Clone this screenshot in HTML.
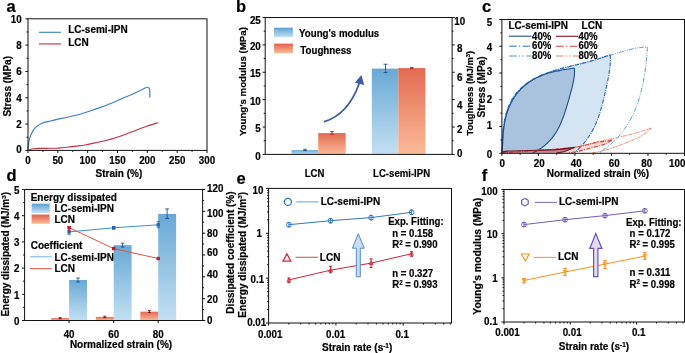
<!DOCTYPE html>
<html><head><meta charset="utf-8"><style>
html,body{margin:0;padding:0;background:#fff;width:685px;height:353px;overflow:hidden}
svg{display:block;will-change:transform}
text{font-family:"Liberation Sans",sans-serif;font-weight:bold;stroke:currentColor;stroke-width:0.2px}
</style></head><body>
<svg xmlns="http://www.w3.org/2000/svg" width="685" height="353" viewBox="0 0 685 353" font-family="Liberation Sans, sans-serif" font-weight="bold">
<rect width="685" height="353" fill="#fff"/>
<text x="6.5" y="12" font-size="16.5" fill="#000">a</text>
<line x1="28.00" y1="150.40" x2="28.00" y2="153.00" stroke="#111" stroke-width="1" />
<line x1="42.92" y1="150.40" x2="42.92" y2="151.90" stroke="#111" stroke-width="1" />
<line x1="57.83" y1="150.40" x2="57.83" y2="153.00" stroke="#111" stroke-width="1" />
<line x1="72.75" y1="150.40" x2="72.75" y2="151.90" stroke="#111" stroke-width="1" />
<line x1="87.67" y1="150.40" x2="87.67" y2="153.00" stroke="#111" stroke-width="1" />
<line x1="102.58" y1="150.40" x2="102.58" y2="151.90" stroke="#111" stroke-width="1" />
<line x1="117.50" y1="150.40" x2="117.50" y2="153.00" stroke="#111" stroke-width="1" />
<line x1="132.42" y1="150.40" x2="132.42" y2="151.90" stroke="#111" stroke-width="1" />
<line x1="147.33" y1="150.40" x2="147.33" y2="153.00" stroke="#111" stroke-width="1" />
<line x1="162.25" y1="150.40" x2="162.25" y2="151.90" stroke="#111" stroke-width="1" />
<line x1="177.17" y1="150.40" x2="177.17" y2="153.00" stroke="#111" stroke-width="1" />
<line x1="192.08" y1="150.40" x2="192.08" y2="151.90" stroke="#111" stroke-width="1" />
<line x1="207.00" y1="150.40" x2="207.00" y2="153.00" stroke="#111" stroke-width="1" />
<line x1="25.40" y1="150.40" x2="28.00" y2="150.40" stroke="#111" stroke-width="1" />
<line x1="26.50" y1="137.24" x2="28.00" y2="137.24" stroke="#111" stroke-width="1" />
<line x1="25.40" y1="124.08" x2="28.00" y2="124.08" stroke="#111" stroke-width="1" />
<line x1="26.50" y1="110.92" x2="28.00" y2="110.92" stroke="#111" stroke-width="1" />
<line x1="25.40" y1="97.76" x2="28.00" y2="97.76" stroke="#111" stroke-width="1" />
<line x1="26.50" y1="84.60" x2="28.00" y2="84.60" stroke="#111" stroke-width="1" />
<line x1="25.40" y1="71.44" x2="28.00" y2="71.44" stroke="#111" stroke-width="1" />
<line x1="26.50" y1="58.28" x2="28.00" y2="58.28" stroke="#111" stroke-width="1" />
<line x1="25.40" y1="45.12" x2="28.00" y2="45.12" stroke="#111" stroke-width="1" />
<line x1="26.50" y1="31.96" x2="28.00" y2="31.96" stroke="#111" stroke-width="1" />
<line x1="25.40" y1="18.80" x2="28.00" y2="18.80" stroke="#111" stroke-width="1" />
<text x="28.00" y="163.95" font-size="10.5" text-anchor="middle" fill="#000" textLength="5.45" lengthAdjust="spacingAndGlyphs">0</text>
<text x="57.83" y="163.95" font-size="10.5" text-anchor="middle" fill="#000" textLength="10.90" lengthAdjust="spacingAndGlyphs">50</text>
<text x="87.67" y="163.95" font-size="10.5" text-anchor="middle" fill="#000" textLength="16.35" lengthAdjust="spacingAndGlyphs">100</text>
<text x="117.50" y="163.95" font-size="10.5" text-anchor="middle" fill="#000" textLength="16.35" lengthAdjust="spacingAndGlyphs">150</text>
<text x="147.33" y="163.95" font-size="10.5" text-anchor="middle" fill="#000" textLength="16.35" lengthAdjust="spacingAndGlyphs">200</text>
<text x="177.17" y="163.95" font-size="10.5" text-anchor="middle" fill="#000" textLength="16.35" lengthAdjust="spacingAndGlyphs">250</text>
<text x="207.00" y="163.95" font-size="10.5" text-anchor="middle" fill="#000" textLength="16.35" lengthAdjust="spacingAndGlyphs">300</text>
<text x="21.60" y="153.25" font-size="10.5" text-anchor="end" fill="#000" textLength="5.45" lengthAdjust="spacingAndGlyphs">0</text>
<text x="21.60" y="128.25" font-size="10.5" text-anchor="end" fill="#000" textLength="5.45" lengthAdjust="spacingAndGlyphs">2</text>
<text x="21.60" y="101.75" font-size="10.5" text-anchor="end" fill="#000" textLength="5.45" lengthAdjust="spacingAndGlyphs">4</text>
<text x="21.60" y="75.05" font-size="10.5" text-anchor="end" fill="#000" textLength="5.45" lengthAdjust="spacingAndGlyphs">6</text>
<text x="21.60" y="49.45" font-size="10.5" text-anchor="end" fill="#000" textLength="5.45" lengthAdjust="spacingAndGlyphs">8</text>
<text x="21.60" y="23.45" font-size="10.5" text-anchor="end" fill="#000" textLength="10.90" lengthAdjust="spacingAndGlyphs">10</text>
<text x="118.90" y="177.00" font-size="10" text-anchor="middle" fill="#000" >Strain (%)</text>
<text transform="translate(11.00,86.30) rotate(-90)" font-size="10.00" text-anchor="middle" textLength="60.58" lengthAdjust="spacingAndGlyphs"><tspan dy="0.00">Stress (MPa)</tspan></text>
<path d="M27.70,150.20 C27.82,149.28 28.15,146.38 28.40,144.70 C28.65,143.02 28.70,141.93 29.20,140.10 C29.70,138.27 30.33,135.82 31.40,133.70 C32.47,131.58 33.83,129.15 35.60,127.40 C37.37,125.65 39.52,124.27 42.00,123.20 C44.48,122.13 47.67,121.72 50.50,121.00 C53.33,120.28 56.17,119.53 59.00,118.90 C61.83,118.27 63.97,117.98 67.50,117.20 C71.03,116.42 76.67,115.15 80.20,114.20 C83.73,113.25 85.52,112.55 88.70,111.50 C91.88,110.45 95.75,109.20 99.30,107.90 C102.85,106.60 105.75,105.47 110.00,103.70 C114.25,101.93 120.43,99.15 124.80,97.30 C129.17,95.45 132.62,94.25 136.20,92.60 C139.78,90.95 144.62,88.27 146.30,87.40" stroke="#3b80c4" stroke-width="1.15" fill="none" stroke-linejoin="round" stroke-linecap="butt" />
<path d="M146.3,87.4 C148.5,86.7 149.8,88.2 149.8,90.7 L149.9,97.8" stroke="#3b80c4" stroke-width="1.15" fill="none"/>
<path d="M28.00,150.40 C28.27,150.32 28.78,150.18 29.60,149.90 C30.42,149.62 31.17,148.95 32.90,148.70 C34.63,148.45 37.15,148.47 40.00,148.40 C42.85,148.33 47.33,148.33 50.00,148.30 C52.67,148.27 54.00,148.30 56.00,148.20 C58.00,148.10 59.83,147.90 62.00,147.70 C64.17,147.50 66.50,147.27 69.00,147.00 C71.50,146.73 74.33,146.43 77.00,146.10 C79.67,145.77 82.00,145.53 85.00,145.00 C88.00,144.47 91.55,143.65 95.00,142.90 C98.45,142.15 102.37,141.32 105.70,140.50 C109.03,139.68 111.68,139.03 115.00,138.00 C118.32,136.97 122.07,135.60 125.60,134.30 C129.13,133.00 132.67,131.53 136.20,130.20 C139.73,128.87 143.15,127.55 146.80,126.30 C150.45,125.05 156.22,123.30 158.10,122.70" stroke="#c8303f" stroke-width="1.15" fill="none" stroke-linejoin="round" stroke-linecap="butt" />
<line x1="38.90" y1="32.30" x2="61.10" y2="32.30" stroke="#3b7fc4" stroke-width="1.1" />
<line x1="38.90" y1="43.90" x2="61.10" y2="43.90" stroke="#d8707e" stroke-width="1.6" />
<text x="68.20" y="33.40" font-size="10" text-anchor="start" fill="#000" >LC-semi-IPN</text>
<text x="68.20" y="45.80" font-size="10" text-anchor="start" fill="#000" >LCN</text>
<rect x="28.00" y="18.80" width="179.00" height="131.60" fill="none" stroke="#111" stroke-width="1.0"/>
<text x="236" y="12" font-size="16.5" fill="#000">b</text>
<defs>
<linearGradient id="gb" x1="0" y1="0" x2="0" y2="1"><stop offset="0" stop-color="#68a8d5"/><stop offset="1" stop-color="#c3e0f2"/></linearGradient>
<linearGradient id="gr" x1="0" y1="0" x2="0" y2="1"><stop offset="0" stop-color="#e26a52"/><stop offset="1" stop-color="#fbbb99"/></linearGradient>
<linearGradient id="gbl" x1="0" y1="0" x2="0" y2="1"><stop offset="0" stop-color="#5d9fd0"/><stop offset="1" stop-color="#c4e1f3"/></linearGradient>
<linearGradient id="grl" x1="0" y1="0" x2="0" y2="1"><stop offset="0" stop-color="#e0604c"/><stop offset="1" stop-color="#fbbb98"/></linearGradient>
</defs>
<rect x="291.50" y="150.10" width="26.70" height="4.30" fill="url(#gb)"/>
<rect x="318.20" y="133.10" width="27.50" height="21.30" fill="url(#gr)"/>
<rect x="371.80" y="68.60" width="26.50" height="85.80" fill="url(#gb)"/>
<rect x="398.30" y="68.10" width="27.10" height="86.30" fill="url(#gr)"/>
<line x1="305.00" y1="149.30" x2="305.00" y2="150.60" stroke="#1f4e8c" stroke-width="0.9" />
<line x1="303.20" y1="149.30" x2="306.80" y2="149.30" stroke="#1f4e8c" stroke-width="0.9" />
<line x1="303.20" y1="150.60" x2="306.80" y2="150.60" stroke="#1f4e8c" stroke-width="0.9" />
<line x1="332.00" y1="131.60" x2="332.00" y2="134.40" stroke="#b02030" stroke-width="0.9" />
<line x1="330.20" y1="131.60" x2="333.80" y2="131.60" stroke="#b02030" stroke-width="0.9" />
<line x1="330.20" y1="134.40" x2="333.80" y2="134.40" stroke="#b02030" stroke-width="0.9" />
<line x1="385.50" y1="64.20" x2="385.50" y2="72.60" stroke="#1f4e8c" stroke-width="0.9" />
<line x1="383.50" y1="64.20" x2="387.50" y2="64.20" stroke="#1f4e8c" stroke-width="0.9" />
<line x1="383.50" y1="72.60" x2="387.50" y2="72.60" stroke="#1f4e8c" stroke-width="0.9" />
<line x1="411.80" y1="67.60" x2="411.80" y2="68.60" stroke="#b02030" stroke-width="0.9" />
<line x1="410.00" y1="67.60" x2="413.60" y2="67.60" stroke="#b02030" stroke-width="0.9" />
<line x1="410.00" y1="68.60" x2="413.60" y2="68.60" stroke="#b02030" stroke-width="0.9" />
<line x1="262.60" y1="154.40" x2="265.20" y2="154.40" stroke="#111" stroke-width="1" />
<line x1="263.70" y1="140.71" x2="265.20" y2="140.71" stroke="#111" stroke-width="1" />
<line x1="262.60" y1="127.02" x2="265.20" y2="127.02" stroke="#111" stroke-width="1" />
<line x1="263.70" y1="113.33" x2="265.20" y2="113.33" stroke="#111" stroke-width="1" />
<line x1="262.60" y1="99.64" x2="265.20" y2="99.64" stroke="#111" stroke-width="1" />
<line x1="263.70" y1="85.95" x2="265.20" y2="85.95" stroke="#111" stroke-width="1" />
<line x1="262.60" y1="72.26" x2="265.20" y2="72.26" stroke="#111" stroke-width="1" />
<line x1="263.70" y1="58.57" x2="265.20" y2="58.57" stroke="#111" stroke-width="1" />
<line x1="262.60" y1="44.88" x2="265.20" y2="44.88" stroke="#111" stroke-width="1" />
<line x1="263.70" y1="31.19" x2="265.20" y2="31.19" stroke="#111" stroke-width="1" />
<line x1="262.60" y1="17.50" x2="265.20" y2="17.50" stroke="#111" stroke-width="1" />
<line x1="452.10" y1="154.40" x2="454.70" y2="154.40" stroke="#111" stroke-width="1" />
<line x1="452.10" y1="140.71" x2="453.60" y2="140.71" stroke="#111" stroke-width="1" />
<line x1="452.10" y1="127.02" x2="454.70" y2="127.02" stroke="#111" stroke-width="1" />
<line x1="452.10" y1="113.33" x2="453.60" y2="113.33" stroke="#111" stroke-width="1" />
<line x1="452.10" y1="99.64" x2="454.70" y2="99.64" stroke="#111" stroke-width="1" />
<line x1="452.10" y1="85.95" x2="453.60" y2="85.95" stroke="#111" stroke-width="1" />
<line x1="452.10" y1="72.26" x2="454.70" y2="72.26" stroke="#111" stroke-width="1" />
<line x1="452.10" y1="58.57" x2="453.60" y2="58.57" stroke="#111" stroke-width="1" />
<line x1="452.10" y1="44.88" x2="454.70" y2="44.88" stroke="#111" stroke-width="1" />
<line x1="452.10" y1="31.19" x2="453.60" y2="31.19" stroke="#111" stroke-width="1" />
<line x1="452.10" y1="17.50" x2="454.70" y2="17.50" stroke="#111" stroke-width="1" />
<text x="260.80" y="23.75" font-size="10.5" text-anchor="end" fill="#000" textLength="10.90" lengthAdjust="spacingAndGlyphs">25</text>
<text x="260.80" y="50.05" font-size="10.5" text-anchor="end" fill="#000" textLength="10.90" lengthAdjust="spacingAndGlyphs">20</text>
<text x="260.80" y="76.55" font-size="10.5" text-anchor="end" fill="#000" textLength="10.90" lengthAdjust="spacingAndGlyphs">15</text>
<text x="260.80" y="104.85" font-size="10.5" text-anchor="end" fill="#000" textLength="10.90" lengthAdjust="spacingAndGlyphs">10</text>
<text x="260.80" y="131.65" font-size="10.5" text-anchor="end" fill="#000" textLength="5.45" lengthAdjust="spacingAndGlyphs">5</text>
<text x="260.80" y="160.35" font-size="10.5" text-anchor="end" fill="#000" textLength="5.45" lengthAdjust="spacingAndGlyphs">0</text>
<text x="459.80" y="25.35" font-size="10.5" text-anchor="middle" fill="#000" textLength="10.90" lengthAdjust="spacingAndGlyphs">10</text>
<text x="459.80" y="52.35" font-size="10.5" text-anchor="middle" fill="#000" textLength="5.45" lengthAdjust="spacingAndGlyphs">8</text>
<text x="459.80" y="81.05" font-size="10.5" text-anchor="middle" fill="#000" textLength="5.45" lengthAdjust="spacingAndGlyphs">6</text>
<text x="459.80" y="108.75" font-size="10.5" text-anchor="middle" fill="#000" textLength="5.45" lengthAdjust="spacingAndGlyphs">4</text>
<text x="459.80" y="132.75" font-size="10.5" text-anchor="middle" fill="#000" textLength="5.45" lengthAdjust="spacingAndGlyphs">2</text>
<text x="459.80" y="156.75" font-size="10.5" text-anchor="middle" fill="#000" textLength="5.45" lengthAdjust="spacingAndGlyphs">0</text>
<text transform="translate(246.30,81.60) rotate(-90)" font-size="9.60" text-anchor="middle" textLength="108.95" lengthAdjust="spacingAndGlyphs"><tspan dy="0.00">Young&#39;s modulus (MPa)</tspan></text>
<text transform="translate(473.20,93.20) rotate(-90)" font-size="9.20" text-anchor="middle" textLength="84.54" lengthAdjust="spacingAndGlyphs"><tspan dy="0.00">Toughness (MJ/m</tspan><tspan font-size="5.89" dy="-3.60">3</tspan><tspan dy="3.60">)</tspan></text>
<text x="314.50" y="177.40" font-size="10.5" text-anchor="middle" textLength="19.73" lengthAdjust="spacingAndGlyphs">LCN</text>
<text x="401.60" y="177.40" font-size="10.5" text-anchor="middle" textLength="57.07" lengthAdjust="spacingAndGlyphs">LC-semi-IPN</text>
<rect x="274.1" y="27.7" width="18.8" height="9.4" fill="url(#gbl)"/>
<rect x="274.1" y="43.6" width="18.8" height="9.6" fill="url(#grl)"/>
<text x="299.10" y="37.30" font-size="10.5" text-anchor="start" textLength="80.15" lengthAdjust="spacingAndGlyphs">Young&#39;s modulus</text>
<text x="300.30" y="53.50" font-size="10.5" text-anchor="start" textLength="51.20" lengthAdjust="spacingAndGlyphs">Toughness</text>
<path d="M323.9,121.8 C340,117 352,104 359.4,83" stroke="#3d5dab" stroke-width="1.8" fill="none"/>
<path d="M361.4,74.9 L354.8,82.8 L364.2,85.0 Z" fill="#3d5dab"/>
<line x1="265.20" y1="154.40" x2="452.10" y2="154.40" stroke="#111" stroke-width="1" />
<line x1="265.20" y1="17.50" x2="452.10" y2="17.50" stroke="#111" stroke-width="1" />
<line x1="265.20" y1="17.50" x2="265.20" y2="154.40" stroke="#111" stroke-width="1" />
<line x1="452.10" y1="17.50" x2="452.10" y2="154.40" stroke="#111" stroke-width="1" />
<text x="482.0" y="12" font-size="16.5" fill="#000">c</text>
<path d="M501.90,153.30 C501.93,153.00 502.04,152.10 502.10,151.49 C502.16,150.87 502.21,150.24 502.26,149.60 C502.30,148.96 502.34,148.30 502.38,147.64 C502.42,146.98 502.45,146.30 502.48,145.62 C502.51,144.94 502.54,144.25 502.57,143.55 C502.60,142.86 502.63,142.15 502.65,141.44 C502.68,140.73 502.71,140.01 502.74,139.29 C502.77,138.57 502.80,137.85 502.84,137.12 C502.87,136.39 502.91,135.66 502.95,134.93 C502.99,134.19 503.04,133.46 503.09,132.72 C503.14,131.98 503.19,131.24 503.26,130.50 C503.32,129.76 503.38,129.02 503.46,128.29 C503.53,127.55 503.61,126.81 503.70,126.07 C503.79,125.34 503.88,124.60 503.99,123.87 C504.09,123.14 504.20,122.41 504.32,121.68 C504.44,120.95 504.57,120.23 504.70,119.51 C504.84,118.79 504.99,118.07 505.14,117.36 C505.30,116.65 505.47,115.94 505.64,115.24 C505.82,114.54 506.00,113.84 506.20,113.15 C506.39,112.46 506.60,111.77 506.81,111.09 C507.03,110.41 507.26,109.74 507.50,109.07 C507.73,108.40 507.98,107.74 508.24,107.09 C508.50,106.44 508.77,105.79 509.05,105.15 C509.33,104.51 509.62,103.88 509.92,103.26 C510.22,102.63 510.54,102.02 510.86,101.41 C511.19,100.80 511.52,100.20 511.87,99.61 C512.21,99.01 512.57,98.43 512.94,97.86 C513.30,97.28 513.68,96.71 514.07,96.15 C514.46,95.60 514.86,95.05 515.27,94.51 C515.68,93.96 516.10,93.43 516.53,92.91 C516.96,92.39 517.40,91.87 517.85,91.36 C518.30,90.86 518.76,90.36 519.22,89.87 C519.69,89.39 520.17,88.91 520.66,88.44 C521.15,87.97 521.65,87.50 522.15,87.05 C522.66,86.60 523.18,86.16 523.70,85.72 C524.22,85.29 524.76,84.86 525.30,84.44 C525.84,84.02 526.38,83.62 526.94,83.21 C527.50,82.81 528.06,82.42 528.63,82.04 C529.20,81.65 529.78,81.28 530.37,80.91 C530.95,80.55 531.55,80.19 532.15,79.84 C532.74,79.48 533.35,79.14 533.96,78.81 C534.57,78.47 535.19,78.14 535.81,77.82 C536.43,77.50 537.06,77.19 537.70,76.89 C538.33,76.58 538.97,76.28 539.61,75.99 C540.25,75.70 540.90,75.42 541.55,75.14 C542.20,74.86 542.86,74.59 543.52,74.33 C544.17,74.06 544.84,73.80 545.50,73.55 C546.17,73.30 546.84,73.05 547.51,72.81 C548.18,72.57 548.85,72.34 549.53,72.11 C550.21,71.88 550.88,71.65 551.56,71.43 C552.24,71.21 552.93,71.00 553.61,70.79 C554.29,70.58 554.98,70.37 555.66,70.17 C556.35,69.97 557.04,69.77 557.72,69.57 C558.41,69.38 559.10,69.19 559.79,69.00 C560.47,68.82 561.16,68.63 561.85,68.45 C562.54,68.27 563.23,68.09 563.91,67.91 C564.60,67.74 565.29,67.57 565.98,67.39 C566.66,67.22 567.35,67.05 568.03,66.88 C568.72,66.72 569.40,66.55 570.09,66.38 C570.77,66.22 571.45,66.06 572.13,65.89 C572.81,65.73 573.49,65.57 574.17,65.40 C574.85,65.24 575.52,65.08 576.20,64.92 C576.87,64.75 577.55,64.59 578.22,64.43 C578.89,64.26 579.56,64.10 580.23,63.94 C580.90,63.77 581.57,63.61 582.23,63.44 C582.90,63.27 583.56,63.10 584.23,62.93 C584.89,62.76 585.55,62.59 586.21,62.42 C586.88,62.24 587.54,62.07 588.19,61.89 C588.85,61.71 589.51,61.53 590.17,61.34 C590.83,61.16 591.48,60.97 592.14,60.78 C592.80,60.59 593.45,60.39 594.11,60.20 C594.76,60.00 595.42,59.80 596.08,59.59 C596.74,59.39 597.39,59.18 598.05,58.96 C598.71,58.75 599.37,58.53 600.03,58.31 C600.70,58.09 601.36,57.86 602.03,57.63 C602.69,57.40 603.36,57.16 604.03,56.92 C604.71,56.68 605.38,56.43 606.06,56.18 C606.74,55.93 607.43,55.67 608.12,55.41 C608.81,55.14 609.83,54.50 610.20,54.60 C610.57,54.70 610.28,55.54 610.31,56.01 C610.34,56.48 610.36,56.95 610.38,57.41 C610.39,57.87 610.40,58.34 610.41,58.80 C610.41,59.26 610.41,59.72 610.40,60.18 C610.40,60.63 610.38,61.09 610.37,61.54 C610.35,62.00 610.33,62.45 610.30,62.90 C610.28,63.36 610.24,63.81 610.21,64.26 C610.18,64.71 610.14,65.16 610.09,65.61 C610.05,66.05 610.01,66.50 609.96,66.95 C609.91,67.40 609.86,67.84 609.80,68.29 C609.75,68.73 609.69,69.18 609.63,69.62 C609.57,70.07 609.50,70.51 609.44,70.95 C609.37,71.40 609.30,71.84 609.23,72.28 C609.16,72.72 609.09,73.17 609.02,73.61 C608.94,74.05 608.87,74.49 608.79,74.93 C608.71,75.38 608.64,75.82 608.55,76.26 C608.47,76.70 608.39,77.14 608.31,77.58 C608.23,78.02 608.14,78.47 608.06,78.91 C607.97,79.35 607.88,79.79 607.80,80.23 C607.71,80.67 607.62,81.11 607.53,81.55 C607.44,81.99 607.35,82.44 607.26,82.88 C607.17,83.32 607.08,83.76 606.99,84.20 C606.89,84.64 606.80,85.09 606.71,85.53 C606.61,85.97 606.52,86.41 606.42,86.85 C606.33,87.29 606.23,87.74 606.13,88.18 C606.04,88.62 605.94,89.06 605.84,89.51 C605.75,89.95 605.65,90.39 605.55,90.83 C605.45,91.28 605.35,91.72 605.25,92.16 C605.15,92.60 605.05,93.05 604.95,93.49 C604.85,93.93 604.74,94.38 604.64,94.82 C604.54,95.26 604.43,95.70 604.33,96.15 C604.23,96.59 604.12,97.03 604.02,97.48 C603.91,97.92 603.80,98.36 603.70,98.80 C603.59,99.25 603.48,99.69 603.37,100.13 C603.26,100.57 603.15,101.02 603.04,101.46 C602.93,101.90 602.82,102.34 602.71,102.78 C602.59,103.22 602.48,103.66 602.36,104.10 C602.25,104.55 602.13,104.99 602.01,105.43 C601.89,105.87 601.77,106.31 601.65,106.74 C601.53,107.18 601.41,107.62 601.29,108.06 C601.16,108.50 601.04,108.94 600.91,109.37 C600.78,109.81 600.65,110.25 600.52,110.68 C600.39,111.12 600.26,111.55 600.13,111.99 C599.99,112.42 599.86,112.85 599.72,113.29 C599.58,113.72 599.44,114.15 599.30,114.58 C599.15,115.01 599.01,115.44 598.86,115.87 C598.72,116.30 598.57,116.73 598.42,117.16 C598.26,117.58 598.11,118.01 597.95,118.43 C597.80,118.86 597.64,119.28 597.48,119.70 C597.32,120.13 597.15,120.55 596.99,120.97 C596.82,121.39 596.65,121.81 596.48,122.22 C596.30,122.64 596.13,123.06 595.95,123.47 C595.77,123.89 595.59,124.30 595.41,124.71 C595.22,125.12 595.04,125.53 594.85,125.94 C594.66,126.35 594.46,126.76 594.27,127.16 C594.07,127.57 593.87,127.97 593.67,128.37 C593.47,128.78 593.26,129.18 593.05,129.57 C592.84,129.97 592.63,130.37 592.41,130.76 C592.19,131.16 591.98,131.55 591.75,131.94 C591.53,132.33 591.30,132.72 591.07,133.11 C590.84,133.50 590.61,133.88 590.37,134.27 C590.13,134.65 589.89,135.03 589.65,135.41 C589.41,135.79 589.16,136.17 588.91,136.54 C588.66,136.92 588.40,137.29 588.14,137.66 C587.89,138.03 587.63,138.40 587.36,138.76 C587.10,139.13 586.83,139.49 586.56,139.86 C586.28,140.22 586.01,140.58 585.73,140.93 C585.45,141.29 585.17,141.65 584.89,142.00 C584.60,142.35 584.31,142.70 584.02,143.05 C583.73,143.40 583.44,143.75 583.14,144.09 C582.84,144.43 582.54,144.77 582.24,145.11 C581.93,145.45 581.63,145.79 581.32,146.12 C581.01,146.46 580.70,146.79 580.38,147.12 C580.07,147.45 579.75,147.77 579.43,148.10 C579.11,148.42 578.79,148.75 578.47,149.07 C578.15,149.39 577.82,149.70 577.49,150.02 C577.16,150.34 576.83,150.65 576.50,150.96 C576.17,151.27 575.84,151.58 575.51,151.89 C575.17,152.19 574.67,152.65 574.50,152.80 Z" stroke="none" stroke-width="0" fill="#d4e4f3" stroke-linejoin="round" stroke-linecap="butt" />
<path d="M501.90,153.30 C501.92,153.04 501.99,152.27 502.04,151.75 C502.08,151.23 502.12,150.70 502.16,150.18 C502.20,149.66 502.23,149.13 502.27,148.61 C502.30,148.08 502.33,147.55 502.37,147.02 C502.40,146.50 502.43,145.97 502.46,145.43 C502.49,144.90 502.52,144.37 502.55,143.84 C502.58,143.30 502.60,142.77 502.63,142.23 C502.66,141.69 502.69,141.16 502.73,140.62 C502.76,140.08 502.79,139.54 502.82,139.00 C502.86,138.46 502.89,137.92 502.93,137.38 C502.96,136.84 503.00,136.30 503.04,135.76 C503.08,135.22 503.13,134.68 503.17,134.13 C503.22,133.59 503.27,133.05 503.32,132.51 C503.37,131.96 503.42,131.42 503.48,130.88 C503.54,130.34 503.60,129.79 503.66,129.25 C503.72,128.71 503.79,128.17 503.86,127.63 C503.93,127.09 504.01,126.54 504.09,126.00 C504.17,125.46 504.25,124.92 504.34,124.39 C504.43,123.85 504.52,123.31 504.62,122.77 C504.72,122.24 504.82,121.70 504.92,121.17 C505.03,120.63 505.14,120.10 505.26,119.57 C505.37,119.04 505.50,118.51 505.62,117.98 C505.75,117.45 505.88,116.92 506.02,116.40 C506.16,115.87 506.30,115.35 506.45,114.83 C506.60,114.31 506.75,113.79 506.91,113.27 C507.07,112.76 507.24,112.24 507.41,111.73 C507.58,111.22 507.76,110.71 507.94,110.20 C508.12,109.70 508.31,109.19 508.50,108.69 C508.70,108.19 508.90,107.69 509.11,107.20 C509.31,106.70 509.53,106.21 509.75,105.72 C509.96,105.23 510.19,104.75 510.42,104.26 C510.65,103.78 510.89,103.30 511.13,102.83 C511.38,102.35 511.62,101.88 511.88,101.42 C512.14,100.95 512.40,100.48 512.67,100.02 C512.93,99.56 513.21,99.11 513.49,98.66 C513.77,98.21 514.05,97.76 514.35,97.32 C514.64,96.87 514.94,96.43 515.24,96.00 C515.55,95.57 515.86,95.14 516.17,94.71 C516.49,94.29 516.81,93.87 517.14,93.45 C517.47,93.04 517.80,92.62 518.14,92.22 C518.48,91.81 518.83,91.41 519.18,91.02 C519.53,90.62 519.89,90.23 520.25,89.84 C520.61,89.46 520.98,89.08 521.36,88.70 C521.73,88.33 522.11,87.96 522.50,87.59 C522.88,87.23 523.27,86.87 523.67,86.52 C524.06,86.16 524.46,85.82 524.87,85.47 C525.27,85.13 525.68,84.79 526.10,84.46 C526.52,84.13 526.94,83.81 527.36,83.49 C527.79,83.17 528.22,82.85 528.65,82.54 C529.09,82.24 529.53,81.93 529.97,81.64 C530.42,81.34 530.87,81.05 531.32,80.76 C531.77,80.48 532.23,80.20 532.69,79.92 C533.15,79.65 533.62,79.38 534.08,79.12 C534.55,78.86 535.03,78.60 535.50,78.35 C535.98,78.10 536.46,77.85 536.94,77.62 C537.43,77.38 537.91,77.14 538.40,76.92 C538.89,76.69 539.39,76.47 539.88,76.25 C540.38,76.03 540.88,75.82 541.38,75.62 C541.88,75.41 542.39,75.21 542.90,75.02 C543.40,74.82 543.91,74.63 544.43,74.45 C544.94,74.26 545.45,74.09 545.97,73.91 C546.49,73.74 547.01,73.57 547.53,73.41 C548.05,73.24 548.57,73.09 549.09,72.93 C549.62,72.78 550.14,72.63 550.67,72.48 C551.20,72.34 551.72,72.20 552.25,72.07 C552.78,71.93 553.31,71.80 553.84,71.67 C554.38,71.55 554.91,71.42 555.44,71.30 C555.97,71.19 556.51,71.07 557.04,70.96 C557.57,70.85 558.11,70.74 558.64,70.64 C559.17,70.53 559.71,70.43 560.24,70.33 C560.77,70.23 561.31,70.14 561.84,70.04 C562.37,69.95 562.90,69.86 563.44,69.77 C563.97,69.69 564.50,69.60 565.03,69.52 C565.56,69.43 566.09,69.35 566.61,69.27 C567.14,69.19 567.67,69.11 568.19,69.03 C568.72,68.95 569.24,68.87 569.76,68.80 C570.28,68.72 570.80,68.64 571.32,68.57 C571.84,68.49 572.35,68.41 572.87,68.33 C573.38,68.26 574.13,67.93 574.40,68.10 C574.67,68.27 574.47,68.95 574.49,69.38 C574.51,69.80 574.53,70.22 574.53,70.64 C574.54,71.07 574.54,71.49 574.53,71.90 C574.52,72.32 574.51,72.74 574.49,73.16 C574.47,73.57 574.44,73.99 574.41,74.41 C574.38,74.82 574.34,75.23 574.30,75.65 C574.25,76.06 574.21,76.47 574.15,76.88 C574.10,77.30 574.04,77.71 573.98,78.12 C573.92,78.53 573.86,78.94 573.79,79.34 C573.72,79.75 573.65,80.16 573.58,80.57 C573.50,80.98 573.42,81.38 573.34,81.79 C573.26,82.20 573.18,82.60 573.09,83.01 C573.00,83.42 572.92,83.82 572.83,84.23 C572.74,84.63 572.64,85.04 572.55,85.44 C572.45,85.85 572.36,86.25 572.26,86.65 C572.16,87.06 572.06,87.46 571.96,87.87 C571.86,88.27 571.76,88.67 571.65,89.08 C571.55,89.48 571.45,89.88 571.34,90.29 C571.23,90.69 571.13,91.09 571.02,91.49 C570.91,91.90 570.80,92.30 570.70,92.70 C570.59,93.10 570.48,93.50 570.37,93.91 C570.26,94.31 570.15,94.71 570.03,95.11 C569.92,95.51 569.81,95.92 569.70,96.32 C569.59,96.72 569.47,97.12 569.36,97.52 C569.25,97.92 569.13,98.33 569.02,98.73 C568.90,99.13 568.79,99.53 568.67,99.93 C568.56,100.33 568.44,100.73 568.33,101.13 C568.21,101.53 568.09,101.93 567.98,102.33 C567.86,102.73 567.74,103.13 567.62,103.53 C567.51,103.93 567.39,104.33 567.27,104.73 C567.15,105.13 567.03,105.53 566.91,105.93 C566.79,106.33 566.67,106.73 566.54,107.13 C566.42,107.53 566.30,107.92 566.18,108.32 C566.05,108.72 565.93,109.12 565.80,109.51 C565.68,109.91 565.55,110.31 565.42,110.70 C565.30,111.10 565.17,111.50 565.04,111.89 C564.91,112.29 564.78,112.68 564.65,113.08 C564.51,113.47 564.38,113.86 564.25,114.26 C564.11,114.65 563.97,115.04 563.84,115.43 C563.70,115.82 563.56,116.22 563.42,116.61 C563.27,117.00 563.13,117.39 562.99,117.77 C562.84,118.16 562.69,118.55 562.54,118.94 C562.40,119.32 562.24,119.71 562.09,120.09 C561.94,120.48 561.78,120.86 561.62,121.25 C561.47,121.63 561.30,122.01 561.14,122.39 C560.98,122.77 560.81,123.15 560.65,123.53 C560.48,123.91 560.31,124.28 560.13,124.66 C559.96,125.04 559.78,125.41 559.60,125.78 C559.42,126.15 559.24,126.53 559.06,126.90 C558.87,127.27 558.68,127.63 558.49,128.00 C558.30,128.37 558.10,128.73 557.91,129.09 C557.71,129.46 557.51,129.82 557.30,130.18 C557.10,130.54 556.89,130.90 556.68,131.25 C556.46,131.61 556.25,131.96 556.03,132.31 C555.81,132.66 555.59,133.01 555.36,133.36 C555.14,133.71 554.90,134.05 554.67,134.40 C554.44,134.74 554.20,135.08 553.96,135.42 C553.72,135.76 553.47,136.09 553.22,136.42 C552.97,136.76 552.72,137.09 552.46,137.42 C552.20,137.74 551.94,138.07 551.68,138.39 C551.41,138.71 551.14,139.03 550.87,139.35 C550.60,139.67 550.32,139.98 550.04,140.29 C549.76,140.60 549.47,140.91 549.19,141.21 C548.90,141.52 548.61,141.82 548.31,142.12 C548.01,142.41 547.71,142.71 547.41,143.00 C547.11,143.29 546.80,143.58 546.49,143.86 C546.18,144.14 545.86,144.43 545.54,144.70 C545.23,144.98 544.91,145.25 544.58,145.52 C544.26,145.79 543.93,146.05 543.60,146.32 C543.27,146.58 542.93,146.83 542.59,147.09 C542.26,147.34 541.92,147.59 541.58,147.83 C541.23,148.08 540.89,148.32 540.54,148.55 C540.19,148.79 539.84,149.02 539.49,149.25 C539.14,149.47 538.78,149.70 538.43,149.91 C538.07,150.13 537.71,150.34 537.35,150.55 C536.99,150.76 536.63,150.96 536.27,151.16 C535.91,151.36 535.55,151.55 535.18,151.74 C534.82,151.93 534.46,152.11 534.09,152.28 C533.73,152.46 533.18,152.71 533.00,152.80 Z" stroke="none" stroke-width="0" fill="#a9c2dd" stroke-linejoin="round" stroke-linecap="butt" />
<path d="M501.60,152.80 C508.00,152.40 527.83,151.35 540.00,150.40 C552.17,149.45 565.18,148.40 574.60,147.10 C584.02,145.80 590.30,143.73 596.50,142.60 C602.70,141.47 610.58,139.98 611.80,140.30 C613.02,140.62 607.57,143.13 603.80,144.50 C600.03,145.87 593.58,147.35 589.20,148.50 C584.82,149.65 580.90,150.68 577.50,151.40 C574.10,152.12 570.25,152.57 568.80,152.80 Z" stroke="none" stroke-width="0" fill="#f9d9d0" stroke-linejoin="round" stroke-linecap="butt" />
<path d="M501.60,152.80 C502.47,152.52 502.07,151.48 506.80,151.10 C511.53,150.72 521.73,150.75 530.00,150.50 C538.27,150.25 548.97,150.12 556.40,149.60 C563.83,149.08 573.38,147.05 574.60,147.40 C575.82,147.75 566.73,150.80 563.70,151.70 C560.67,152.60 557.62,152.62 556.40,152.80 Z" stroke="none" stroke-width="0" fill="#c08894" stroke-linejoin="round" stroke-linecap="butt" />
<path d="M501.90,153.30 C501.91,152.93 501.94,151.85 501.95,151.09 C501.97,150.33 501.98,149.55 501.99,148.76 C502.01,147.96 502.02,147.14 502.04,146.31 C502.06,145.49 502.08,144.64 502.10,143.79 C502.13,142.93 502.15,142.06 502.19,141.19 C502.22,140.31 502.26,139.42 502.31,138.53 C502.35,137.64 502.40,136.74 502.47,135.83 C502.53,134.93 502.60,134.02 502.67,133.11 C502.75,132.20 502.84,131.29 502.94,130.38 C503.04,129.46 503.14,128.55 503.26,127.64 C503.38,126.73 503.51,125.82 503.65,124.91 C503.80,124.00 503.95,123.10 504.12,122.20 C504.28,121.30 504.46,120.41 504.66,119.52 C504.85,118.63 505.05,117.75 505.27,116.87 C505.49,116.00 505.73,115.13 505.97,114.27 C506.22,113.42 506.48,112.56 506.76,111.72 C507.03,110.88 507.32,110.05 507.63,109.23 C507.93,108.41 508.25,107.60 508.58,106.80 C508.92,106.00 509.27,105.21 509.63,104.44 C509.99,103.66 510.37,102.90 510.76,102.14 C511.16,101.39 511.56,100.65 511.99,99.92 C512.41,99.20 512.84,98.48 513.30,97.78 C513.75,97.08 514.21,96.39 514.69,95.71 C515.17,95.04 515.67,94.38 516.18,93.73 C516.69,93.08 517.21,92.44 517.74,91.82 C518.28,91.20 518.83,90.59 519.39,89.99 C519.96,89.40 520.53,88.82 521.12,88.25 C521.71,87.68 522.32,87.12 522.93,86.58 C523.55,86.04 524.17,85.51 524.81,84.99 C525.45,84.48 526.10,83.97 526.77,83.48 C527.43,82.99 528.10,82.51 528.79,82.05 C529.47,81.58 530.17,81.13 530.88,80.68 C531.58,80.24 532.30,79.81 533.02,79.39 C533.75,78.97 534.49,78.56 535.23,78.17 C535.97,77.77 536.73,77.38 537.49,77.01 C538.25,76.63 539.02,76.27 539.80,75.91 C540.57,75.55 541.36,75.21 542.15,74.87 C542.94,74.53 543.74,74.21 544.55,73.89 C545.35,73.57 546.16,73.26 546.98,72.95 C547.80,72.65 548.62,72.35 549.45,72.07 C550.27,71.78 551.11,71.50 551.94,71.22 C552.78,70.95 553.62,70.68 554.46,70.42 C555.30,70.16 556.15,69.90 557.00,69.65 C557.85,69.40 558.70,69.15 559.56,68.91 C560.41,68.67 561.27,68.43 562.13,68.20 C562.99,67.96 563.85,67.73 564.71,67.51 C565.57,67.28 566.43,67.06 567.29,66.84 C568.15,66.61 569.01,66.40 569.88,66.18 C570.74,65.96 571.60,65.75 572.46,65.54 C573.32,65.32 574.18,65.11 575.04,64.90 C575.90,64.69 576.76,64.48 577.61,64.27 C578.47,64.06 579.33,63.85 580.18,63.64 C581.03,63.43 581.88,63.22 582.73,63.01 C583.58,62.80 584.42,62.58 585.27,62.37 C586.11,62.16 586.95,61.95 587.79,61.73 C588.62,61.52 589.46,61.30 590.29,61.08 C591.12,60.86 591.95,60.65 592.78,60.42 C593.60,60.20 594.43,59.98 595.25,59.76 C596.07,59.53 596.88,59.31 597.70,59.08 C598.51,58.85 599.32,58.62 600.13,58.39 C600.93,58.15 601.74,57.92 602.54,57.68 C603.34,57.45 604.14,57.21 604.94,56.97 C605.74,56.73 606.53,56.49 607.32,56.25 C608.11,56.01 608.90,55.77 609.69,55.52 C610.48,55.28 611.27,55.03 612.06,54.79 C612.84,54.54 613.63,54.30 614.41,54.05 C615.20,53.81 615.98,53.56 616.77,53.32 C617.55,53.07 618.34,52.83 619.13,52.59 C619.91,52.35 620.70,52.11 621.49,51.87 C622.28,51.64 623.08,51.40 623.87,51.17 C624.67,50.95 625.47,50.72 626.28,50.50 C627.08,50.28 627.89,50.06 628.71,49.85 C629.52,49.65 630.34,49.44 631.17,49.25 C632.00,49.05 632.84,48.87 633.69,48.69 C634.53,48.51 635.39,48.35 636.26,48.19 C637.12,48.03 638.00,47.89 638.89,47.76 C639.78,47.63 640.68,47.51 641.60,47.41 C642.52,47.31 643.45,47.22 644.40,47.15 C645.35,47.08 646.82,47.03 647.30,47.00" stroke="#4f95d3" stroke-width="1.0" fill="none" stroke-linejoin="round" stroke-linecap="butt" stroke-dasharray="4.6 1.3 0.9 1.3 0.9 1.3"/>
<path d="M647.30,47.00 C647.29,47.26 647.27,48.03 647.25,48.54 C647.23,49.05 647.20,49.57 647.18,50.08 C647.16,50.59 647.13,51.10 647.10,51.61 C647.07,52.12 647.04,52.63 647.01,53.14 C646.98,53.65 646.94,54.16 646.91,54.67 C646.87,55.18 646.83,55.69 646.79,56.19 C646.75,56.70 646.71,57.21 646.66,57.72 C646.62,58.22 646.57,58.73 646.53,59.24 C646.48,59.74 646.43,60.25 646.38,60.76 C646.33,61.26 646.28,61.77 646.22,62.28 C646.17,62.78 646.11,63.29 646.05,63.79 C646.00,64.30 645.94,64.80 645.88,65.31 C645.82,65.81 645.75,66.32 645.69,66.82 C645.63,67.33 645.56,67.83 645.49,68.34 C645.42,68.84 645.36,69.35 645.28,69.85 C645.21,70.36 645.14,70.86 645.07,71.36 C644.99,71.87 644.92,72.37 644.84,72.88 C644.76,73.38 644.68,73.88 644.60,74.39 C644.52,74.89 644.44,75.39 644.35,75.90 C644.27,76.40 644.18,76.90 644.10,77.40 C644.01,77.91 643.92,78.41 643.83,78.91 C643.74,79.41 643.64,79.92 643.55,80.42 C643.45,80.92 643.35,81.42 643.26,81.92 C643.16,82.42 643.06,82.93 642.95,83.43 C642.85,83.93 642.74,84.43 642.64,84.93 C642.53,85.43 642.42,85.93 642.31,86.43 C642.20,86.92 642.09,87.42 641.97,87.92 C641.85,88.42 641.74,88.92 641.62,89.42 C641.50,89.91 641.38,90.41 641.25,90.91 C641.13,91.40 641.00,91.90 640.87,92.39 C640.74,92.89 640.61,93.38 640.48,93.88 C640.34,94.37 640.21,94.86 640.07,95.35 C639.93,95.85 639.79,96.34 639.64,96.83 C639.50,97.32 639.35,97.81 639.20,98.30 C639.06,98.79 638.90,99.28 638.75,99.76 C638.59,100.25 638.44,100.74 638.28,101.22 C638.12,101.71 637.96,102.19 637.79,102.68 C637.62,103.16 637.46,103.64 637.28,104.12 C637.11,104.61 636.94,105.09 636.76,105.56 C636.58,106.04 636.40,106.52 636.22,107.00 C636.04,107.47 635.85,107.95 635.66,108.42 C635.47,108.90 635.28,109.37 635.08,109.84 C634.88,110.31 634.69,110.78 634.48,111.25 C634.28,111.72 634.08,112.18 633.87,112.65 C633.66,113.11 633.44,113.58 633.23,114.04 C633.01,114.50 632.79,114.96 632.57,115.42 C632.35,115.88 632.12,116.33 631.89,116.79 C631.66,117.24 631.43,117.70 631.19,118.15 C630.96,118.60 630.72,119.05 630.48,119.50 C630.23,119.94 629.98,120.39 629.73,120.83 C629.48,121.28 629.23,121.72 628.97,122.16 C628.71,122.60 628.45,123.03 628.19,123.47 C627.92,123.90 627.65,124.34 627.38,124.77 C627.11,125.20 626.83,125.63 626.55,126.05 C626.28,126.48 625.99,126.90 625.71,127.32 C625.42,127.75 625.13,128.16 624.83,128.58 C624.54,129.00 624.24,129.41 623.94,129.82 C623.64,130.23 623.33,130.64 623.03,131.05 C622.72,131.46 622.41,131.86 622.09,132.26 C621.77,132.66 621.45,133.06 621.13,133.46 C620.81,133.85 620.48,134.25 620.15,134.64 C619.82,135.03 619.49,135.42 619.15,135.80 C618.82,136.19 618.48,136.57 618.13,136.95 C617.79,137.33 617.44,137.70 617.09,138.08 C616.74,138.45 616.39,138.82 616.03,139.19 C615.67,139.56 615.31,139.92 614.95,140.28 C614.59,140.64 614.22,141.00 613.85,141.36 C613.48,141.71 613.11,142.07 612.73,142.42 C612.36,142.77 611.98,143.11 611.60,143.46 C611.22,143.80 610.83,144.14 610.45,144.48 C610.06,144.81 609.67,145.15 609.28,145.48 C608.89,145.81 608.50,146.14 608.10,146.46 C607.70,146.79 607.30,147.11 606.90,147.42 C606.50,147.74 606.10,148.06 605.69,148.37 C605.29,148.68 604.88,148.99 604.47,149.29 C604.07,149.60 603.66,149.90 603.24,150.20 C602.83,150.50 602.42,150.79 602.00,151.09 C601.59,151.38 601.17,151.67 600.75,151.95 C600.34,152.24 599.71,152.66 599.50,152.80" stroke="#4f95d3" stroke-width="1.0" fill="none" stroke-linejoin="round" stroke-linecap="butt" stroke-dasharray="4.6 1.3 0.9 1.3 0.9 1.3"/>
<path d="M501.90,153.30 C501.93,153.00 502.04,152.10 502.10,151.49 C502.16,150.87 502.21,150.24 502.26,149.60 C502.30,148.96 502.34,148.30 502.38,147.64 C502.42,146.98 502.45,146.30 502.48,145.62 C502.51,144.94 502.54,144.25 502.57,143.55 C502.60,142.86 502.63,142.15 502.65,141.44 C502.68,140.73 502.71,140.01 502.74,139.29 C502.77,138.57 502.80,137.85 502.84,137.12 C502.87,136.39 502.91,135.66 502.95,134.93 C502.99,134.19 503.04,133.46 503.09,132.72 C503.14,131.98 503.19,131.24 503.26,130.50 C503.32,129.76 503.38,129.02 503.46,128.29 C503.53,127.55 503.61,126.81 503.70,126.07 C503.79,125.34 503.88,124.60 503.99,123.87 C504.09,123.14 504.20,122.41 504.32,121.68 C504.44,120.95 504.57,120.23 504.70,119.51 C504.84,118.79 504.99,118.07 505.14,117.36 C505.30,116.65 505.47,115.94 505.64,115.24 C505.82,114.54 506.00,113.84 506.20,113.15 C506.39,112.46 506.60,111.77 506.81,111.09 C507.03,110.41 507.26,109.74 507.50,109.07 C507.73,108.40 507.98,107.74 508.24,107.09 C508.50,106.44 508.77,105.79 509.05,105.15 C509.33,104.51 509.62,103.88 509.92,103.26 C510.22,102.63 510.54,102.02 510.86,101.41 C511.19,100.80 511.52,100.20 511.87,99.61 C512.21,99.01 512.57,98.43 512.94,97.86 C513.30,97.28 513.68,96.71 514.07,96.15 C514.46,95.60 514.86,95.05 515.27,94.51 C515.68,93.96 516.10,93.43 516.53,92.91 C516.96,92.39 517.40,91.87 517.85,91.36 C518.30,90.86 518.76,90.36 519.22,89.87 C519.69,89.39 520.17,88.91 520.66,88.44 C521.15,87.97 521.65,87.50 522.15,87.05 C522.66,86.60 523.18,86.16 523.70,85.72 C524.22,85.29 524.76,84.86 525.30,84.44 C525.84,84.02 526.38,83.62 526.94,83.21 C527.50,82.81 528.06,82.42 528.63,82.04 C529.20,81.65 529.78,81.28 530.37,80.91 C530.95,80.55 531.55,80.19 532.15,79.84 C532.74,79.48 533.35,79.14 533.96,78.81 C534.57,78.47 535.19,78.14 535.81,77.82 C536.43,77.50 537.06,77.19 537.70,76.89 C538.33,76.58 538.97,76.28 539.61,75.99 C540.25,75.70 540.90,75.42 541.55,75.14 C542.20,74.86 542.86,74.59 543.52,74.33 C544.17,74.06 544.84,73.80 545.50,73.55 C546.17,73.30 546.84,73.05 547.51,72.81 C548.18,72.57 548.85,72.34 549.53,72.11 C550.21,71.88 550.88,71.65 551.56,71.43 C552.24,71.21 552.93,71.00 553.61,70.79 C554.29,70.58 554.98,70.37 555.66,70.17 C556.35,69.97 557.04,69.77 557.72,69.57 C558.41,69.38 559.10,69.19 559.79,69.00 C560.47,68.82 561.16,68.63 561.85,68.45 C562.54,68.27 563.23,68.09 563.91,67.91 C564.60,67.74 565.29,67.57 565.98,67.39 C566.66,67.22 567.35,67.05 568.03,66.88 C568.72,66.72 569.40,66.55 570.09,66.38 C570.77,66.22 571.45,66.06 572.13,65.89 C572.81,65.73 573.49,65.57 574.17,65.40 C574.85,65.24 575.52,65.08 576.20,64.92 C576.87,64.75 577.55,64.59 578.22,64.43 C578.89,64.26 579.56,64.10 580.23,63.94 C580.90,63.77 581.57,63.61 582.23,63.44 C582.90,63.27 583.56,63.10 584.23,62.93 C584.89,62.76 585.55,62.59 586.21,62.42 C586.88,62.24 587.54,62.07 588.19,61.89 C588.85,61.71 589.51,61.53 590.17,61.34 C590.83,61.16 591.48,60.97 592.14,60.78 C592.80,60.59 593.45,60.39 594.11,60.20 C594.76,60.00 595.42,59.80 596.08,59.59 C596.74,59.39 597.39,59.18 598.05,58.96 C598.71,58.75 599.37,58.53 600.03,58.31 C600.70,58.09 601.36,57.86 602.03,57.63 C602.69,57.40 603.36,57.16 604.03,56.92 C604.71,56.68 605.38,56.43 606.06,56.18 C606.74,55.93 607.43,55.67 608.12,55.41 C608.81,55.14 609.85,54.73 610.20,54.60" stroke="#2a6db5" stroke-width="1.15" fill="none" stroke-linejoin="round" stroke-linecap="butt" stroke-dasharray="4.2 1.2 1.0 1.2"/>
<path d="M610.20,54.60 C610.22,54.84 610.28,55.54 610.31,56.01 C610.34,56.48 610.36,56.95 610.38,57.41 C610.39,57.87 610.40,58.34 610.41,58.80 C610.41,59.26 610.41,59.72 610.40,60.18 C610.40,60.63 610.38,61.09 610.37,61.54 C610.35,62.00 610.33,62.45 610.30,62.90 C610.28,63.36 610.24,63.81 610.21,64.26 C610.18,64.71 610.14,65.16 610.09,65.61 C610.05,66.05 610.01,66.50 609.96,66.95 C609.91,67.40 609.86,67.84 609.80,68.29 C609.75,68.73 609.69,69.18 609.63,69.62 C609.57,70.07 609.50,70.51 609.44,70.95 C609.37,71.40 609.30,71.84 609.23,72.28 C609.16,72.72 609.09,73.17 609.02,73.61 C608.94,74.05 608.87,74.49 608.79,74.93 C608.71,75.38 608.64,75.82 608.55,76.26 C608.47,76.70 608.39,77.14 608.31,77.58 C608.23,78.02 608.14,78.47 608.06,78.91 C607.97,79.35 607.88,79.79 607.80,80.23 C607.71,80.67 607.62,81.11 607.53,81.55 C607.44,81.99 607.35,82.44 607.26,82.88 C607.17,83.32 607.08,83.76 606.99,84.20 C606.89,84.64 606.80,85.09 606.71,85.53 C606.61,85.97 606.52,86.41 606.42,86.85 C606.33,87.29 606.23,87.74 606.13,88.18 C606.04,88.62 605.94,89.06 605.84,89.51 C605.75,89.95 605.65,90.39 605.55,90.83 C605.45,91.28 605.35,91.72 605.25,92.16 C605.15,92.60 605.05,93.05 604.95,93.49 C604.85,93.93 604.74,94.38 604.64,94.82 C604.54,95.26 604.43,95.70 604.33,96.15 C604.23,96.59 604.12,97.03 604.02,97.48 C603.91,97.92 603.80,98.36 603.70,98.80 C603.59,99.25 603.48,99.69 603.37,100.13 C603.26,100.57 603.15,101.02 603.04,101.46 C602.93,101.90 602.82,102.34 602.71,102.78 C602.59,103.22 602.48,103.66 602.36,104.10 C602.25,104.55 602.13,104.99 602.01,105.43 C601.89,105.87 601.77,106.31 601.65,106.74 C601.53,107.18 601.41,107.62 601.29,108.06 C601.16,108.50 601.04,108.94 600.91,109.37 C600.78,109.81 600.65,110.25 600.52,110.68 C600.39,111.12 600.26,111.55 600.13,111.99 C599.99,112.42 599.86,112.85 599.72,113.29 C599.58,113.72 599.44,114.15 599.30,114.58 C599.15,115.01 599.01,115.44 598.86,115.87 C598.72,116.30 598.57,116.73 598.42,117.16 C598.26,117.58 598.11,118.01 597.95,118.43 C597.80,118.86 597.64,119.28 597.48,119.70 C597.32,120.13 597.15,120.55 596.99,120.97 C596.82,121.39 596.65,121.81 596.48,122.22 C596.30,122.64 596.13,123.06 595.95,123.47 C595.77,123.89 595.59,124.30 595.41,124.71 C595.22,125.12 595.04,125.53 594.85,125.94 C594.66,126.35 594.46,126.76 594.27,127.16 C594.07,127.57 593.87,127.97 593.67,128.37 C593.47,128.78 593.26,129.18 593.05,129.57 C592.84,129.97 592.63,130.37 592.41,130.76 C592.19,131.16 591.98,131.55 591.75,131.94 C591.53,132.33 591.30,132.72 591.07,133.11 C590.84,133.50 590.61,133.88 590.37,134.27 C590.13,134.65 589.89,135.03 589.65,135.41 C589.41,135.79 589.16,136.17 588.91,136.54 C588.66,136.92 588.40,137.29 588.14,137.66 C587.89,138.03 587.63,138.40 587.36,138.76 C587.10,139.13 586.83,139.49 586.56,139.86 C586.28,140.22 586.01,140.58 585.73,140.93 C585.45,141.29 585.17,141.65 584.89,142.00 C584.60,142.35 584.31,142.70 584.02,143.05 C583.73,143.40 583.44,143.75 583.14,144.09 C582.84,144.43 582.54,144.77 582.24,145.11 C581.93,145.45 581.63,145.79 581.32,146.12 C581.01,146.46 580.70,146.79 580.38,147.12 C580.07,147.45 579.75,147.77 579.43,148.10 C579.11,148.42 578.79,148.75 578.47,149.07 C578.15,149.39 577.82,149.70 577.49,150.02 C577.16,150.34 576.83,150.65 576.50,150.96 C576.17,151.27 575.84,151.58 575.51,151.89 C575.17,152.19 574.67,152.65 574.50,152.80" stroke="#2a6db5" stroke-width="1.15" fill="none" stroke-linejoin="round" stroke-linecap="butt" stroke-dasharray="4.2 1.2 1.0 1.2"/>
<path d="M501.90,153.30 C501.92,153.04 501.99,152.27 502.04,151.75 C502.08,151.23 502.12,150.70 502.16,150.18 C502.20,149.66 502.23,149.13 502.27,148.61 C502.30,148.08 502.33,147.55 502.37,147.02 C502.40,146.50 502.43,145.97 502.46,145.43 C502.49,144.90 502.52,144.37 502.55,143.84 C502.58,143.30 502.60,142.77 502.63,142.23 C502.66,141.69 502.69,141.16 502.73,140.62 C502.76,140.08 502.79,139.54 502.82,139.00 C502.86,138.46 502.89,137.92 502.93,137.38 C502.96,136.84 503.00,136.30 503.04,135.76 C503.08,135.22 503.13,134.68 503.17,134.13 C503.22,133.59 503.27,133.05 503.32,132.51 C503.37,131.96 503.42,131.42 503.48,130.88 C503.54,130.34 503.60,129.79 503.66,129.25 C503.72,128.71 503.79,128.17 503.86,127.63 C503.93,127.09 504.01,126.54 504.09,126.00 C504.17,125.46 504.25,124.92 504.34,124.39 C504.43,123.85 504.52,123.31 504.62,122.77 C504.72,122.24 504.82,121.70 504.92,121.17 C505.03,120.63 505.14,120.10 505.26,119.57 C505.37,119.04 505.50,118.51 505.62,117.98 C505.75,117.45 505.88,116.92 506.02,116.40 C506.16,115.87 506.30,115.35 506.45,114.83 C506.60,114.31 506.75,113.79 506.91,113.27 C507.07,112.76 507.24,112.24 507.41,111.73 C507.58,111.22 507.76,110.71 507.94,110.20 C508.12,109.70 508.31,109.19 508.50,108.69 C508.70,108.19 508.90,107.69 509.11,107.20 C509.31,106.70 509.53,106.21 509.75,105.72 C509.96,105.23 510.19,104.75 510.42,104.26 C510.65,103.78 510.89,103.30 511.13,102.83 C511.38,102.35 511.62,101.88 511.88,101.42 C512.14,100.95 512.40,100.48 512.67,100.02 C512.93,99.56 513.21,99.11 513.49,98.66 C513.77,98.21 514.05,97.76 514.35,97.32 C514.64,96.87 514.94,96.43 515.24,96.00 C515.55,95.57 515.86,95.14 516.17,94.71 C516.49,94.29 516.81,93.87 517.14,93.45 C517.47,93.04 517.80,92.62 518.14,92.22 C518.48,91.81 518.83,91.41 519.18,91.02 C519.53,90.62 519.89,90.23 520.25,89.84 C520.61,89.46 520.98,89.08 521.36,88.70 C521.73,88.33 522.11,87.96 522.50,87.59 C522.88,87.23 523.27,86.87 523.67,86.52 C524.06,86.16 524.46,85.82 524.87,85.47 C525.27,85.13 525.68,84.79 526.10,84.46 C526.52,84.13 526.94,83.81 527.36,83.49 C527.79,83.17 528.22,82.85 528.65,82.54 C529.09,82.24 529.53,81.93 529.97,81.64 C530.42,81.34 530.87,81.05 531.32,80.76 C531.77,80.48 532.23,80.20 532.69,79.92 C533.15,79.65 533.62,79.38 534.08,79.12 C534.55,78.86 535.03,78.60 535.50,78.35 C535.98,78.10 536.46,77.85 536.94,77.62 C537.43,77.38 537.91,77.14 538.40,76.92 C538.89,76.69 539.39,76.47 539.88,76.25 C540.38,76.03 540.88,75.82 541.38,75.62 C541.88,75.41 542.39,75.21 542.90,75.02 C543.40,74.82 543.91,74.63 544.43,74.45 C544.94,74.26 545.45,74.09 545.97,73.91 C546.49,73.74 547.01,73.57 547.53,73.41 C548.05,73.24 548.57,73.09 549.09,72.93 C549.62,72.78 550.14,72.63 550.67,72.48 C551.20,72.34 551.72,72.20 552.25,72.07 C552.78,71.93 553.31,71.80 553.84,71.67 C554.38,71.55 554.91,71.42 555.44,71.30 C555.97,71.19 556.51,71.07 557.04,70.96 C557.57,70.85 558.11,70.74 558.64,70.64 C559.17,70.53 559.71,70.43 560.24,70.33 C560.77,70.23 561.31,70.14 561.84,70.04 C562.37,69.95 562.90,69.86 563.44,69.77 C563.97,69.69 564.50,69.60 565.03,69.52 C565.56,69.43 566.09,69.35 566.61,69.27 C567.14,69.19 567.67,69.11 568.19,69.03 C568.72,68.95 569.24,68.87 569.76,68.80 C570.28,68.72 570.80,68.64 571.32,68.57 C571.84,68.49 572.35,68.41 572.87,68.33 C573.38,68.26 574.14,68.14 574.40,68.10" stroke="#1f4e8d" stroke-width="1.1" fill="none" stroke-linejoin="round" stroke-linecap="butt" />
<path d="M574.40,68.10 C574.42,68.31 574.47,68.95 574.49,69.38 C574.51,69.80 574.53,70.22 574.53,70.64 C574.54,71.07 574.54,71.49 574.53,71.90 C574.52,72.32 574.51,72.74 574.49,73.16 C574.47,73.57 574.44,73.99 574.41,74.41 C574.38,74.82 574.34,75.23 574.30,75.65 C574.25,76.06 574.21,76.47 574.15,76.88 C574.10,77.30 574.04,77.71 573.98,78.12 C573.92,78.53 573.86,78.94 573.79,79.34 C573.72,79.75 573.65,80.16 573.58,80.57 C573.50,80.98 573.42,81.38 573.34,81.79 C573.26,82.20 573.18,82.60 573.09,83.01 C573.00,83.42 572.92,83.82 572.83,84.23 C572.74,84.63 572.64,85.04 572.55,85.44 C572.45,85.85 572.36,86.25 572.26,86.65 C572.16,87.06 572.06,87.46 571.96,87.87 C571.86,88.27 571.76,88.67 571.65,89.08 C571.55,89.48 571.45,89.88 571.34,90.29 C571.23,90.69 571.13,91.09 571.02,91.49 C570.91,91.90 570.80,92.30 570.70,92.70 C570.59,93.10 570.48,93.50 570.37,93.91 C570.26,94.31 570.15,94.71 570.03,95.11 C569.92,95.51 569.81,95.92 569.70,96.32 C569.59,96.72 569.47,97.12 569.36,97.52 C569.25,97.92 569.13,98.33 569.02,98.73 C568.90,99.13 568.79,99.53 568.67,99.93 C568.56,100.33 568.44,100.73 568.33,101.13 C568.21,101.53 568.09,101.93 567.98,102.33 C567.86,102.73 567.74,103.13 567.62,103.53 C567.51,103.93 567.39,104.33 567.27,104.73 C567.15,105.13 567.03,105.53 566.91,105.93 C566.79,106.33 566.67,106.73 566.54,107.13 C566.42,107.53 566.30,107.92 566.18,108.32 C566.05,108.72 565.93,109.12 565.80,109.51 C565.68,109.91 565.55,110.31 565.42,110.70 C565.30,111.10 565.17,111.50 565.04,111.89 C564.91,112.29 564.78,112.68 564.65,113.08 C564.51,113.47 564.38,113.86 564.25,114.26 C564.11,114.65 563.97,115.04 563.84,115.43 C563.70,115.82 563.56,116.22 563.42,116.61 C563.27,117.00 563.13,117.39 562.99,117.77 C562.84,118.16 562.69,118.55 562.54,118.94 C562.40,119.32 562.24,119.71 562.09,120.09 C561.94,120.48 561.78,120.86 561.62,121.25 C561.47,121.63 561.30,122.01 561.14,122.39 C560.98,122.77 560.81,123.15 560.65,123.53 C560.48,123.91 560.31,124.28 560.13,124.66 C559.96,125.04 559.78,125.41 559.60,125.78 C559.42,126.15 559.24,126.53 559.06,126.90 C558.87,127.27 558.68,127.63 558.49,128.00 C558.30,128.37 558.10,128.73 557.91,129.09 C557.71,129.46 557.51,129.82 557.30,130.18 C557.10,130.54 556.89,130.90 556.68,131.25 C556.46,131.61 556.25,131.96 556.03,132.31 C555.81,132.66 555.59,133.01 555.36,133.36 C555.14,133.71 554.90,134.05 554.67,134.40 C554.44,134.74 554.20,135.08 553.96,135.42 C553.72,135.76 553.47,136.09 553.22,136.42 C552.97,136.76 552.72,137.09 552.46,137.42 C552.20,137.74 551.94,138.07 551.68,138.39 C551.41,138.71 551.14,139.03 550.87,139.35 C550.60,139.67 550.32,139.98 550.04,140.29 C549.76,140.60 549.47,140.91 549.19,141.21 C548.90,141.52 548.61,141.82 548.31,142.12 C548.01,142.41 547.71,142.71 547.41,143.00 C547.11,143.29 546.80,143.58 546.49,143.86 C546.18,144.14 545.86,144.43 545.54,144.70 C545.23,144.98 544.91,145.25 544.58,145.52 C544.26,145.79 543.93,146.05 543.60,146.32 C543.27,146.58 542.93,146.83 542.59,147.09 C542.26,147.34 541.92,147.59 541.58,147.83 C541.23,148.08 540.89,148.32 540.54,148.55 C540.19,148.79 539.84,149.02 539.49,149.25 C539.14,149.47 538.78,149.70 538.43,149.91 C538.07,150.13 537.71,150.34 537.35,150.55 C536.99,150.76 536.63,150.96 536.27,151.16 C535.91,151.36 535.55,151.55 535.18,151.74 C534.82,151.93 534.46,152.11 534.09,152.28 C533.73,152.46 533.18,152.71 533.00,152.80" stroke="#1f4e8d" stroke-width="1.1" fill="none" stroke-linejoin="round" stroke-linecap="butt" />
<path d="M501.60,152.80 C508.00,152.38 527.83,151.18 540.00,150.30 C552.17,149.42 565.18,148.90 574.60,147.50 C584.02,146.10 589.20,143.58 596.50,141.90 C603.80,140.22 611.58,138.97 618.40,137.40 C625.22,135.83 631.93,134.07 637.40,132.50 C642.87,130.93 648.90,128.75 651.20,128.00" stroke="#f08a66" stroke-width="1.0" fill="none" stroke-linejoin="round" stroke-linecap="butt" stroke-dasharray="3.2 0.6 0.9 0.6 0.9 0.6"/>
<path d="M651.20,128.00 C650.75,128.48 650.43,129.42 648.50,130.90 C646.57,132.38 642.73,135.17 639.60,136.90 C636.47,138.63 633.00,139.90 629.70,141.30 C626.40,142.70 623.10,144.05 619.80,145.30 C616.50,146.55 613.20,147.77 609.90,148.80 C606.60,149.83 602.97,150.83 600.00,151.50 C597.03,152.17 593.42,152.58 592.10,152.80" stroke="#f08a66" stroke-width="1.0" fill="none" stroke-linejoin="round" stroke-linecap="butt" stroke-dasharray="3.2 0.6 0.9 0.6 0.9 0.6"/>
<path d="M501.60,152.80 C508.00,152.40 527.83,151.35 540.00,150.40 C552.17,149.45 565.18,148.40 574.60,147.10 C584.02,145.80 590.30,143.73 596.50,142.60 C602.70,141.47 609.25,140.68 611.80,140.30" stroke="#d23c40" stroke-width="1.1" fill="none" stroke-linejoin="round" stroke-linecap="butt" stroke-dasharray="4.2 1.2 1.0 1.2"/>
<path d="M611.80,140.30 C610.47,141.00 607.57,143.13 603.80,144.50 C600.03,145.87 593.58,147.35 589.20,148.50 C584.82,149.65 580.90,150.68 577.50,151.40 C574.10,152.12 570.25,152.57 568.80,152.80" stroke="#d23c40" stroke-width="1.1" fill="none" stroke-linejoin="round" stroke-linecap="butt" stroke-dasharray="4.2 1.2 1.0 1.2"/>
<path d="M501.60,152.80 C502.47,152.52 502.07,151.48 506.80,151.10 C511.53,150.72 521.73,150.75 530.00,150.50 C538.27,150.25 548.97,150.12 556.40,149.60 C563.83,149.08 571.57,147.77 574.60,147.40" stroke="#7c1424" stroke-width="1.1" fill="none" stroke-linejoin="round" stroke-linecap="butt" />
<path d="M574.60,147.40 C572.78,148.12 566.73,150.80 563.70,151.70 C560.67,152.60 557.62,152.62 556.40,152.80" stroke="#7c1424" stroke-width="1.1" fill="none" stroke-linejoin="round" stroke-linecap="butt" />
<line x1="501.90" y1="153.30" x2="501.90" y2="155.90" stroke="#111" stroke-width="1" />
<line x1="520.16" y1="153.30" x2="520.16" y2="154.80" stroke="#111" stroke-width="1" />
<line x1="538.42" y1="153.30" x2="538.42" y2="155.90" stroke="#111" stroke-width="1" />
<line x1="556.68" y1="153.30" x2="556.68" y2="154.80" stroke="#111" stroke-width="1" />
<line x1="574.94" y1="153.30" x2="574.94" y2="155.90" stroke="#111" stroke-width="1" />
<line x1="593.20" y1="153.30" x2="593.20" y2="154.80" stroke="#111" stroke-width="1" />
<line x1="611.46" y1="153.30" x2="611.46" y2="155.90" stroke="#111" stroke-width="1" />
<line x1="629.72" y1="153.30" x2="629.72" y2="154.80" stroke="#111" stroke-width="1" />
<line x1="647.98" y1="153.30" x2="647.98" y2="155.90" stroke="#111" stroke-width="1" />
<line x1="666.24" y1="153.30" x2="666.24" y2="154.80" stroke="#111" stroke-width="1" />
<line x1="684.50" y1="153.30" x2="684.50" y2="155.90" stroke="#111" stroke-width="1" />
<line x1="499.30" y1="153.30" x2="501.90" y2="153.30" stroke="#111" stroke-width="1" />
<line x1="500.40" y1="139.92" x2="501.90" y2="139.92" stroke="#111" stroke-width="1" />
<line x1="499.30" y1="126.54" x2="501.90" y2="126.54" stroke="#111" stroke-width="1" />
<line x1="500.40" y1="113.16" x2="501.90" y2="113.16" stroke="#111" stroke-width="1" />
<line x1="499.30" y1="99.78" x2="501.90" y2="99.78" stroke="#111" stroke-width="1" />
<line x1="500.40" y1="86.40" x2="501.90" y2="86.40" stroke="#111" stroke-width="1" />
<line x1="499.30" y1="73.02" x2="501.90" y2="73.02" stroke="#111" stroke-width="1" />
<line x1="500.40" y1="59.64" x2="501.90" y2="59.64" stroke="#111" stroke-width="1" />
<line x1="499.30" y1="46.26" x2="501.90" y2="46.26" stroke="#111" stroke-width="1" />
<line x1="500.40" y1="32.88" x2="501.90" y2="32.88" stroke="#111" stroke-width="1" />
<line x1="499.30" y1="19.50" x2="501.90" y2="19.50" stroke="#111" stroke-width="1" />
<text x="502.20" y="167.15" font-size="10.5" text-anchor="middle" fill="#000" textLength="5.45" lengthAdjust="spacingAndGlyphs">0</text>
<text x="539.20" y="167.15" font-size="10.5" text-anchor="middle" fill="#000" textLength="10.90" lengthAdjust="spacingAndGlyphs">20</text>
<text x="576.20" y="167.15" font-size="10.5" text-anchor="middle" fill="#000" textLength="10.90" lengthAdjust="spacingAndGlyphs">40</text>
<text x="614.30" y="167.15" font-size="10.5" text-anchor="middle" fill="#000" textLength="10.90" lengthAdjust="spacingAndGlyphs">60</text>
<text x="646.70" y="167.15" font-size="10.5" text-anchor="middle" fill="#000" textLength="10.90" lengthAdjust="spacingAndGlyphs">80</text>
<text x="669.00" y="167.15" font-size="10.5" text-anchor="start" fill="#000" textLength="16.35" lengthAdjust="spacingAndGlyphs">100</text>
<text x="492.20" y="25.55" font-size="10.5" text-anchor="end" fill="#000" textLength="5.45" lengthAdjust="spacingAndGlyphs">5</text>
<text x="492.20" y="50.65" font-size="10.5" text-anchor="end" fill="#000" textLength="5.45" lengthAdjust="spacingAndGlyphs">4</text>
<text x="492.20" y="74.95" font-size="10.5" text-anchor="end" fill="#000" textLength="5.45" lengthAdjust="spacingAndGlyphs">3</text>
<text x="492.20" y="102.85" font-size="10.5" text-anchor="end" fill="#000" textLength="5.45" lengthAdjust="spacingAndGlyphs">2</text>
<text x="492.20" y="129.15" font-size="10.5" text-anchor="end" fill="#000" textLength="5.45" lengthAdjust="spacingAndGlyphs">1</text>
<text x="492.20" y="157.55" font-size="10.5" text-anchor="end" fill="#000" textLength="5.45" lengthAdjust="spacingAndGlyphs">0</text>
<text transform="translate(484.60,87.00) rotate(-90)" font-size="10.10" text-anchor="middle" textLength="61.18" lengthAdjust="spacingAndGlyphs"><tspan dy="0.00">Stress (MPa)</tspan></text>
<text x="597.90" y="177.40" font-size="10" text-anchor="middle" fill="#000" >Normalized strain (%)</text>
<text x="508.50" y="29.30" font-size="10" text-anchor="start" fill="#000" >LC-semi-IPN</text>
<text x="581.60" y="29.30" font-size="10" text-anchor="start" fill="#000" >LCN</text>
<line x1="508.90" y1="36.20" x2="531.50" y2="36.20" stroke="#1f4e8d" stroke-width="1.1" />
<line x1="509.10" y1="46.20" x2="531.50" y2="46.20" stroke="#2e74b8" stroke-width="1.0" stroke-dasharray="7.6 2.1 1.5 2.4"/>
<line x1="509.10" y1="56.00" x2="531.50" y2="56.00" stroke="#4f95d3" stroke-width="1.1" stroke-dasharray="7.6 2.1 1.3 2.3 1.3 2.4"/>
<line x1="556.10" y1="36.30" x2="578.20" y2="36.30" stroke="#7c1424" stroke-width="1.1" />
<line x1="556.10" y1="46.20" x2="578.20" y2="46.20" stroke="#d23c40" stroke-width="1.1" stroke-dasharray="7.6 2.1 1.5 2.4"/>
<line x1="556.10" y1="56.00" x2="578.20" y2="56.00" stroke="#ee7f5a" stroke-width="1.1" stroke-dasharray="7.6 2.1 1.3 2.3 1.3 2.4"/>
<text x="532.10" y="39.50" font-size="10.5" text-anchor="start" textLength="19.21" lengthAdjust="spacingAndGlyphs">40%</text>
<text x="578.40" y="39.50" font-size="10.5" text-anchor="start" textLength="19.21" lengthAdjust="spacingAndGlyphs">40%</text>
<text x="532.10" y="49.20" font-size="10.5" text-anchor="start" textLength="19.21" lengthAdjust="spacingAndGlyphs">60%</text>
<text x="578.40" y="49.20" font-size="10.5" text-anchor="start" textLength="19.21" lengthAdjust="spacingAndGlyphs">60%</text>
<text x="532.10" y="58.90" font-size="10.5" text-anchor="start" textLength="19.21" lengthAdjust="spacingAndGlyphs">80%</text>
<text x="578.40" y="58.90" font-size="10.5" text-anchor="start" textLength="19.21" lengthAdjust="spacingAndGlyphs">80%</text>
<rect x="501.90" y="19.50" width="182.60" height="133.80" fill="none" stroke="#111" stroke-width="1.0"/>
<text x="6.5" y="180.8" font-size="16.5" fill="#000">d</text>
<rect x="69.10" y="280.00" width="17.90" height="40.50" fill="url(#gb)"/>
<rect x="51.20" y="318.10" width="17.90" height="2.40" fill="url(#gr)"/>
<rect x="113.70" y="245.20" width="17.90" height="75.30" fill="url(#gb)"/>
<rect x="95.80" y="316.90" width="17.90" height="3.60" fill="url(#gr)"/>
<rect x="158.20" y="213.90" width="17.90" height="106.60" fill="url(#gb)"/>
<rect x="140.30" y="311.70" width="17.90" height="8.80" fill="url(#gr)"/>
<line x1="78.00" y1="278.00" x2="78.00" y2="282.00" stroke="#1f4e8c" stroke-width="0.9" />
<line x1="76.20" y1="278.00" x2="79.80" y2="278.00" stroke="#1f4e8c" stroke-width="0.9" />
<line x1="76.20" y1="282.00" x2="79.80" y2="282.00" stroke="#1f4e8c" stroke-width="0.9" />
<line x1="122.60" y1="243.20" x2="122.60" y2="247.00" stroke="#1f4e8c" stroke-width="0.9" />
<line x1="120.80" y1="243.20" x2="124.40" y2="243.20" stroke="#1f4e8c" stroke-width="0.9" />
<line x1="120.80" y1="247.00" x2="124.40" y2="247.00" stroke="#1f4e8c" stroke-width="0.9" />
<line x1="167.10" y1="208.90" x2="167.10" y2="218.50" stroke="#1f4e8c" stroke-width="0.9" />
<line x1="165.30" y1="208.90" x2="168.90" y2="208.90" stroke="#1f4e8c" stroke-width="0.9" />
<line x1="165.30" y1="218.50" x2="168.90" y2="218.50" stroke="#1f4e8c" stroke-width="0.9" />
<line x1="60.20" y1="317.60" x2="60.20" y2="318.80" stroke="#8b0a1a" stroke-width="0.9" />
<line x1="58.70" y1="317.60" x2="61.70" y2="317.60" stroke="#8b0a1a" stroke-width="0.9" />
<line x1="58.70" y1="318.80" x2="61.70" y2="318.80" stroke="#8b0a1a" stroke-width="0.9" />
<line x1="104.80" y1="316.20" x2="104.80" y2="317.60" stroke="#8b0a1a" stroke-width="0.9" />
<line x1="103.30" y1="316.20" x2="106.30" y2="316.20" stroke="#8b0a1a" stroke-width="0.9" />
<line x1="103.30" y1="317.60" x2="106.30" y2="317.60" stroke="#8b0a1a" stroke-width="0.9" />
<line x1="149.30" y1="310.60" x2="149.30" y2="312.60" stroke="#8b0a1a" stroke-width="0.9" />
<line x1="147.80" y1="310.60" x2="150.80" y2="310.60" stroke="#8b0a1a" stroke-width="0.9" />
<line x1="147.80" y1="312.60" x2="150.80" y2="312.60" stroke="#8b0a1a" stroke-width="0.9" />
<path d="M69.10,231.90 L113.70,227.80 L158.20,224.80" stroke="#3d8fd6" stroke-width="1.0" fill="none" stroke-linejoin="round" />
<path d="M69.10,227.60 L113.70,248.60 L158.20,258.50" stroke="#e2533f" stroke-width="1.0" fill="none" stroke-linejoin="round" />
<rect x="67.40" y="230.20" width="3.4" height="3.4" fill="#2466ae"/>
<rect x="112.00" y="226.10" width="3.4" height="3.4" fill="#2466ae"/>
<rect x="156.50" y="223.10" width="3.4" height="3.4" fill="#2466ae"/>
<line x1="69.10" y1="227.80" x2="69.10" y2="234.70" stroke="#2466ae" stroke-width="0.8" />
<line x1="67.50" y1="227.80" x2="70.70" y2="227.80" stroke="#2466ae" stroke-width="0.8" />
<line x1="67.50" y1="234.70" x2="70.70" y2="234.70" stroke="#2466ae" stroke-width="0.8" />
<line x1="113.70" y1="226.60" x2="113.70" y2="229.00" stroke="#2466ae" stroke-width="0.8" />
<line x1="112.10" y1="226.60" x2="115.30" y2="226.60" stroke="#2466ae" stroke-width="0.8" />
<line x1="112.10" y1="229.00" x2="115.30" y2="229.00" stroke="#2466ae" stroke-width="0.8" />
<line x1="158.20" y1="221.40" x2="158.20" y2="227.80" stroke="#2466ae" stroke-width="0.8" />
<line x1="156.60" y1="221.40" x2="159.80" y2="221.40" stroke="#2466ae" stroke-width="0.8" />
<line x1="156.60" y1="227.80" x2="159.80" y2="227.80" stroke="#2466ae" stroke-width="0.8" />
<rect x="67.40" y="225.90" width="3.4" height="3.4" fill="#c41a34"/>
<rect x="112.00" y="246.90" width="3.4" height="3.4" fill="#c41a34"/>
<rect x="156.50" y="256.80" width="3.4" height="3.4" fill="#c41a34"/>
<line x1="69.10" y1="226.60" x2="69.10" y2="230.20" stroke="#c41a34" stroke-width="0.8" />
<line x1="67.50" y1="226.60" x2="70.70" y2="226.60" stroke="#c41a34" stroke-width="0.8" />
<line x1="67.50" y1="230.20" x2="70.70" y2="230.20" stroke="#c41a34" stroke-width="0.8" />
<line x1="22.00" y1="320.50" x2="24.60" y2="320.50" stroke="#111" stroke-width="1" />
<line x1="23.10" y1="307.40" x2="24.60" y2="307.40" stroke="#111" stroke-width="1" />
<line x1="22.00" y1="294.30" x2="24.60" y2="294.30" stroke="#111" stroke-width="1" />
<line x1="23.10" y1="281.20" x2="24.60" y2="281.20" stroke="#111" stroke-width="1" />
<line x1="22.00" y1="268.10" x2="24.60" y2="268.10" stroke="#111" stroke-width="1" />
<line x1="23.10" y1="255.00" x2="24.60" y2="255.00" stroke="#111" stroke-width="1" />
<line x1="22.00" y1="241.90" x2="24.60" y2="241.90" stroke="#111" stroke-width="1" />
<line x1="23.10" y1="228.80" x2="24.60" y2="228.80" stroke="#111" stroke-width="1" />
<line x1="22.00" y1="215.70" x2="24.60" y2="215.70" stroke="#111" stroke-width="1" />
<line x1="23.10" y1="202.60" x2="24.60" y2="202.60" stroke="#111" stroke-width="1" />
<line x1="22.00" y1="189.50" x2="24.60" y2="189.50" stroke="#111" stroke-width="1" />
<line x1="202.60" y1="320.50" x2="205.20" y2="320.50" stroke="#111" stroke-width="1" />
<line x1="202.60" y1="309.58" x2="204.10" y2="309.58" stroke="#111" stroke-width="1" />
<line x1="202.60" y1="298.67" x2="205.20" y2="298.67" stroke="#111" stroke-width="1" />
<line x1="202.60" y1="287.75" x2="204.10" y2="287.75" stroke="#111" stroke-width="1" />
<line x1="202.60" y1="276.83" x2="205.20" y2="276.83" stroke="#111" stroke-width="1" />
<line x1="202.60" y1="265.92" x2="204.10" y2="265.92" stroke="#111" stroke-width="1" />
<line x1="202.60" y1="255.00" x2="205.20" y2="255.00" stroke="#111" stroke-width="1" />
<line x1="202.60" y1="244.08" x2="204.10" y2="244.08" stroke="#111" stroke-width="1" />
<line x1="202.60" y1="233.17" x2="205.20" y2="233.17" stroke="#111" stroke-width="1" />
<line x1="202.60" y1="222.25" x2="204.10" y2="222.25" stroke="#111" stroke-width="1" />
<line x1="202.60" y1="211.33" x2="205.20" y2="211.33" stroke="#111" stroke-width="1" />
<line x1="202.60" y1="200.42" x2="204.10" y2="200.42" stroke="#111" stroke-width="1" />
<line x1="202.60" y1="189.50" x2="205.20" y2="189.50" stroke="#111" stroke-width="1" />
<line x1="69.10" y1="320.50" x2="69.10" y2="323.10" stroke="#111" stroke-width="1" />
<line x1="113.70" y1="320.50" x2="113.70" y2="323.10" stroke="#111" stroke-width="1" />
<line x1="158.20" y1="320.50" x2="158.20" y2="323.10" stroke="#111" stroke-width="1" />
<text x="19.40" y="324.85" font-size="10.5" text-anchor="end" fill="#000" textLength="5.45" lengthAdjust="spacingAndGlyphs">0</text>
<text x="19.40" y="298.65" font-size="10.5" text-anchor="end" fill="#000" textLength="5.45" lengthAdjust="spacingAndGlyphs">1</text>
<text x="19.40" y="272.45" font-size="10.5" text-anchor="end" fill="#000" textLength="5.45" lengthAdjust="spacingAndGlyphs">2</text>
<text x="19.40" y="246.25" font-size="10.5" text-anchor="end" fill="#000" textLength="5.45" lengthAdjust="spacingAndGlyphs">3</text>
<text x="19.40" y="220.05" font-size="10.5" text-anchor="end" fill="#000" textLength="5.45" lengthAdjust="spacingAndGlyphs">4</text>
<text x="19.40" y="193.85" font-size="10.5" text-anchor="end" fill="#000" textLength="5.45" lengthAdjust="spacingAndGlyphs">5</text>
<text x="207.00" y="192.25" font-size="10.5" text-anchor="start" fill="#000" textLength="16.35" lengthAdjust="spacingAndGlyphs">120</text>
<text x="207.00" y="217.05" font-size="10.5" text-anchor="start" fill="#000" textLength="16.35" lengthAdjust="spacingAndGlyphs">100</text>
<text x="207.00" y="236.85" font-size="10.5" text-anchor="start" fill="#000" textLength="10.90" lengthAdjust="spacingAndGlyphs">80</text>
<text x="207.00" y="256.35" font-size="10.5" text-anchor="start" fill="#000" textLength="10.90" lengthAdjust="spacingAndGlyphs">60</text>
<text x="207.00" y="277.95" font-size="10.5" text-anchor="start" fill="#000" textLength="10.90" lengthAdjust="spacingAndGlyphs">40</text>
<text x="207.00" y="302.55" font-size="10.5" text-anchor="start" fill="#000" textLength="10.90" lengthAdjust="spacingAndGlyphs">20</text>
<text x="207.00" y="324.25" font-size="10.5" text-anchor="start" fill="#000" textLength="5.45" lengthAdjust="spacingAndGlyphs">0</text>
<text x="69.10" y="338.15" font-size="10.5" text-anchor="middle" fill="#000" textLength="10.90" lengthAdjust="spacingAndGlyphs">40</text>
<text x="113.70" y="338.15" font-size="10.5" text-anchor="middle" fill="#000" textLength="10.90" lengthAdjust="spacingAndGlyphs">60</text>
<text x="158.20" y="338.15" font-size="10.5" text-anchor="middle" fill="#000" textLength="10.90" lengthAdjust="spacingAndGlyphs">80</text>
<text x="121.00" y="348.20" font-size="10" text-anchor="middle" fill="#000" >Normalized strain (%)</text>
<text transform="translate(9.20,254.30) rotate(-90)" font-size="10.00" text-anchor="middle" textLength="124.59" lengthAdjust="spacingAndGlyphs"><tspan dy="0.00">Energy dissipated (MJ/m</tspan><tspan font-size="6.20" dy="-3.70">3</tspan><tspan dy="3.70">)</tspan></text>
<text transform="translate(233.90,252.50) rotate(-90)" font-size="10.05" text-anchor="middle" textLength="122.30" lengthAdjust="spacingAndGlyphs"><tspan dy="0.00">Dissipated coefficient (%)</tspan></text>
<text x="30.70" y="200.50" font-size="10" text-anchor="start" fill="#000" >Energy dissipated</text>
<rect x="31.7" y="203.7" width="17.9" height="9" fill="url(#gbl)" stroke="#9ccbe8" stroke-width="0.5" stroke-dasharray="1 1"/>
<rect x="31.7" y="214.6" width="17.9" height="9" fill="url(#grl)" stroke="#f0a890" stroke-width="0.5" stroke-dasharray="1 1"/>
<text x="54.50" y="211.80" font-size="10" text-anchor="start" fill="#000" >LC-semi-IPN</text>
<text x="54.50" y="223.10" font-size="10" text-anchor="start" fill="#000" >LCN</text>
<text x="30.70" y="248.70" font-size="10" text-anchor="start" fill="#000" >Coefficient</text>
<line x1="30.00" y1="256.80" x2="51.80" y2="256.80" stroke="#86bce6" stroke-width="1.2" />
<line x1="30.00" y1="268.60" x2="51.80" y2="268.60" stroke="#e2705e" stroke-width="1.2" />
<text x="54.50" y="260.60" font-size="10" text-anchor="start" fill="#000" >LC-semi-IPN</text>
<text x="54.50" y="272.00" font-size="10" text-anchor="start" fill="#000" >LCN</text>
<rect x="24.60" y="189.50" width="178.00" height="131.00" fill="none" stroke="#111" stroke-width="1.0"/>
<text x="236.5" y="183.6" font-size="16.5" fill="#000">e</text>
<line x1="268.60" y1="323.00" x2="268.60" y2="325.60" stroke="#111" stroke-width="1" />
<line x1="288.86" y1="323.00" x2="288.86" y2="324.50" stroke="#111" stroke-width="1" />
<line x1="300.71" y1="323.00" x2="300.71" y2="324.50" stroke="#111" stroke-width="1" />
<line x1="309.12" y1="323.00" x2="309.12" y2="324.50" stroke="#111" stroke-width="1" />
<line x1="315.64" y1="323.00" x2="315.64" y2="324.50" stroke="#111" stroke-width="1" />
<line x1="320.97" y1="323.00" x2="320.97" y2="324.50" stroke="#111" stroke-width="1" />
<line x1="325.48" y1="323.00" x2="325.48" y2="324.50" stroke="#111" stroke-width="1" />
<line x1="329.38" y1="323.00" x2="329.38" y2="324.50" stroke="#111" stroke-width="1" />
<line x1="332.82" y1="323.00" x2="332.82" y2="324.50" stroke="#111" stroke-width="1" />
<line x1="335.90" y1="323.00" x2="335.90" y2="325.60" stroke="#111" stroke-width="1" />
<line x1="356.16" y1="323.00" x2="356.16" y2="324.50" stroke="#111" stroke-width="1" />
<line x1="368.01" y1="323.00" x2="368.01" y2="324.50" stroke="#111" stroke-width="1" />
<line x1="376.42" y1="323.00" x2="376.42" y2="324.50" stroke="#111" stroke-width="1" />
<line x1="382.94" y1="323.00" x2="382.94" y2="324.50" stroke="#111" stroke-width="1" />
<line x1="388.27" y1="323.00" x2="388.27" y2="324.50" stroke="#111" stroke-width="1" />
<line x1="392.78" y1="323.00" x2="392.78" y2="324.50" stroke="#111" stroke-width="1" />
<line x1="396.68" y1="323.00" x2="396.68" y2="324.50" stroke="#111" stroke-width="1" />
<line x1="400.12" y1="323.00" x2="400.12" y2="324.50" stroke="#111" stroke-width="1" />
<line x1="403.20" y1="323.00" x2="403.20" y2="325.60" stroke="#111" stroke-width="1" />
<line x1="423.46" y1="323.00" x2="423.46" y2="324.50" stroke="#111" stroke-width="1" />
<line x1="435.31" y1="323.00" x2="435.31" y2="324.50" stroke="#111" stroke-width="1" />
<line x1="443.72" y1="323.00" x2="443.72" y2="324.50" stroke="#111" stroke-width="1" />
<line x1="450.24" y1="323.00" x2="450.24" y2="324.50" stroke="#111" stroke-width="1" />
<line x1="266.00" y1="323.00" x2="268.60" y2="323.00" stroke="#111" stroke-width="1" />
<line x1="267.10" y1="309.49" x2="268.60" y2="309.49" stroke="#111" stroke-width="1" />
<line x1="267.10" y1="301.59" x2="268.60" y2="301.59" stroke="#111" stroke-width="1" />
<line x1="267.10" y1="295.99" x2="268.60" y2="295.99" stroke="#111" stroke-width="1" />
<line x1="267.10" y1="291.64" x2="268.60" y2="291.64" stroke="#111" stroke-width="1" />
<line x1="267.10" y1="288.09" x2="268.60" y2="288.09" stroke="#111" stroke-width="1" />
<line x1="267.10" y1="285.08" x2="268.60" y2="285.08" stroke="#111" stroke-width="1" />
<line x1="267.10" y1="282.48" x2="268.60" y2="282.48" stroke="#111" stroke-width="1" />
<line x1="267.10" y1="280.19" x2="268.60" y2="280.19" stroke="#111" stroke-width="1" />
<line x1="266.00" y1="278.13" x2="268.60" y2="278.13" stroke="#111" stroke-width="1" />
<line x1="267.10" y1="264.63" x2="268.60" y2="264.63" stroke="#111" stroke-width="1" />
<line x1="267.10" y1="256.73" x2="268.60" y2="256.73" stroke="#111" stroke-width="1" />
<line x1="267.10" y1="251.12" x2="268.60" y2="251.12" stroke="#111" stroke-width="1" />
<line x1="267.10" y1="246.77" x2="268.60" y2="246.77" stroke="#111" stroke-width="1" />
<line x1="267.10" y1="243.22" x2="268.60" y2="243.22" stroke="#111" stroke-width="1" />
<line x1="267.10" y1="240.22" x2="268.60" y2="240.22" stroke="#111" stroke-width="1" />
<line x1="267.10" y1="237.61" x2="268.60" y2="237.61" stroke="#111" stroke-width="1" />
<line x1="267.10" y1="235.32" x2="268.60" y2="235.32" stroke="#111" stroke-width="1" />
<line x1="266.00" y1="233.27" x2="268.60" y2="233.27" stroke="#111" stroke-width="1" />
<line x1="267.10" y1="219.76" x2="268.60" y2="219.76" stroke="#111" stroke-width="1" />
<line x1="267.10" y1="211.86" x2="268.60" y2="211.86" stroke="#111" stroke-width="1" />
<line x1="267.10" y1="206.25" x2="268.60" y2="206.25" stroke="#111" stroke-width="1" />
<line x1="267.10" y1="201.91" x2="268.60" y2="201.91" stroke="#111" stroke-width="1" />
<line x1="267.10" y1="198.35" x2="268.60" y2="198.35" stroke="#111" stroke-width="1" />
<line x1="267.10" y1="195.35" x2="268.60" y2="195.35" stroke="#111" stroke-width="1" />
<line x1="267.10" y1="192.75" x2="268.60" y2="192.75" stroke="#111" stroke-width="1" />
<line x1="267.10" y1="190.45" x2="268.60" y2="190.45" stroke="#111" stroke-width="1" />
<line x1="266.00" y1="188.40" x2="268.60" y2="188.40" stroke="#111" stroke-width="1" />
<text x="270.20" y="337.75" font-size="10.5" text-anchor="middle" fill="#000" textLength="24.52" lengthAdjust="spacingAndGlyphs">0.001</text>
<text x="335.60" y="337.75" font-size="10.5" text-anchor="middle" fill="#000" textLength="19.07" lengthAdjust="spacingAndGlyphs">0.01</text>
<text x="402.20" y="337.75" font-size="10.5" text-anchor="middle" fill="#000" textLength="13.62" lengthAdjust="spacingAndGlyphs">0.1</text>
<text x="263.40" y="193.95" font-size="10.5" text-anchor="end" fill="#000" textLength="10.90" lengthAdjust="spacingAndGlyphs">10</text>
<text x="262.00" y="237.15" font-size="10.5" text-anchor="end" fill="#000" textLength="5.45" lengthAdjust="spacingAndGlyphs">1</text>
<text x="264.20" y="282.75" font-size="10.5" text-anchor="end" fill="#000" textLength="13.62" lengthAdjust="spacingAndGlyphs">0.1</text>
<text x="266.20" y="326.15" font-size="10.5" text-anchor="end" fill="#000" textLength="19.07" lengthAdjust="spacingAndGlyphs">0.01</text>
<text x="357.20" y="351.40" font-size="10" text-anchor="middle" fill="#000" >Strain rate (s<tspan font-size="6.5" dy="-3.5">-1</tspan><tspan dy="3.5">)</tspan></text>
<text transform="translate(245.60,254.80) rotate(-90)" font-size="10.10" text-anchor="middle" textLength="125.83" lengthAdjust="spacingAndGlyphs"><tspan dy="0.00">Energy dissipated (MJ/m</tspan><tspan font-size="6.26" dy="-3.70">3</tspan><tspan dy="3.70">)</tspan></text>
<path d="M288.86,224.70 L330.57,220.70 L371.09,217.60 L411.61,212.30" stroke="#3377c2" stroke-width="1.0" fill="none" stroke-linejoin="round" />
<path d="M288.86,279.90 L330.57,270.20 L371.09,263.10 L411.61,253.70" stroke="#cc2434" stroke-width="1.0" fill="none" stroke-linejoin="round" />
<circle cx="288.86" cy="224.70" r="2.4" fill="none" stroke="#3377c2" stroke-width="0.9"/>
<line x1="288.86" y1="222.50" x2="288.86" y2="226.90" stroke="#3377c2" stroke-width="1.0" />
<line x1="287.46" y1="222.50" x2="290.26" y2="222.50" stroke="#3377c2" stroke-width="1.0" />
<line x1="287.46" y1="226.90" x2="290.26" y2="226.90" stroke="#3377c2" stroke-width="1.0" />
<circle cx="330.57" cy="220.70" r="2.4" fill="none" stroke="#3377c2" stroke-width="0.9"/>
<line x1="330.57" y1="218.50" x2="330.57" y2="222.90" stroke="#3377c2" stroke-width="1.0" />
<line x1="329.17" y1="218.50" x2="331.97" y2="218.50" stroke="#3377c2" stroke-width="1.0" />
<line x1="329.17" y1="222.90" x2="331.97" y2="222.90" stroke="#3377c2" stroke-width="1.0" />
<circle cx="371.09" cy="217.60" r="2.4" fill="none" stroke="#3377c2" stroke-width="0.9"/>
<line x1="371.09" y1="215.40" x2="371.09" y2="219.80" stroke="#3377c2" stroke-width="1.0" />
<line x1="369.69" y1="215.40" x2="372.49" y2="215.40" stroke="#3377c2" stroke-width="1.0" />
<line x1="369.69" y1="219.80" x2="372.49" y2="219.80" stroke="#3377c2" stroke-width="1.0" />
<circle cx="411.61" cy="212.30" r="2.4" fill="none" stroke="#3377c2" stroke-width="0.9"/>
<line x1="411.61" y1="210.10" x2="411.61" y2="214.50" stroke="#3377c2" stroke-width="1.0" />
<line x1="410.21" y1="210.10" x2="413.01" y2="210.10" stroke="#3377c2" stroke-width="1.0" />
<line x1="410.21" y1="214.50" x2="413.01" y2="214.50" stroke="#3377c2" stroke-width="1.0" />
<path d="M286.86,281.30 L288.86,278.00 L290.86,281.30 Z" fill="none" stroke="#cc2434" stroke-width="0.8"/>
<line x1="288.86" y1="278.00" x2="288.86" y2="282.60" stroke="#cc2434" stroke-width="1.1" />
<line x1="287.36" y1="278.00" x2="290.36" y2="278.00" stroke="#cc2434" stroke-width="1.1" />
<line x1="287.36" y1="282.60" x2="290.36" y2="282.60" stroke="#cc2434" stroke-width="1.1" />
<path d="M328.57,271.60 L330.57,268.30 L332.57,271.60 Z" fill="none" stroke="#cc2434" stroke-width="0.8"/>
<line x1="330.57" y1="266.30" x2="330.57" y2="272.80" stroke="#cc2434" stroke-width="1.1" />
<line x1="329.07" y1="266.30" x2="332.07" y2="266.30" stroke="#cc2434" stroke-width="1.1" />
<line x1="329.07" y1="272.80" x2="332.07" y2="272.80" stroke="#cc2434" stroke-width="1.1" />
<path d="M369.09,264.50 L371.09,261.20 L373.09,264.50 Z" fill="none" stroke="#cc2434" stroke-width="0.8"/>
<line x1="371.09" y1="258.90" x2="371.09" y2="267.60" stroke="#cc2434" stroke-width="1.1" />
<line x1="369.59" y1="258.90" x2="372.59" y2="258.90" stroke="#cc2434" stroke-width="1.1" />
<line x1="369.59" y1="267.60" x2="372.59" y2="267.60" stroke="#cc2434" stroke-width="1.1" />
<path d="M409.61,255.10 L411.61,251.80 L413.61,255.10 Z" fill="none" stroke="#cc2434" stroke-width="0.8"/>
<line x1="411.61" y1="251.80" x2="411.61" y2="256.30" stroke="#cc2434" stroke-width="1.1" />
<line x1="410.11" y1="251.80" x2="413.11" y2="251.80" stroke="#cc2434" stroke-width="1.1" />
<line x1="410.11" y1="256.30" x2="413.11" y2="256.30" stroke="#cc2434" stroke-width="1.1" />
<circle cx="287.9" cy="201.9" r="3.55" fill="none" stroke="#2f72c0" stroke-width="1.3"/>
<line x1="296.40" y1="201.90" x2="318.70" y2="201.90" stroke="#98bfe6" stroke-width="1.5" />
<path d="M283.0,261.1 L286.9,253.9 L290.9,261.1 Z" fill="none" stroke="#cc3338" stroke-width="1.3"/>
<line x1="295.40" y1="257.30" x2="318.00" y2="257.30" stroke="#d9666f" stroke-width="1.2" />
<text x="320.70" y="205.00" font-size="10" text-anchor="start" fill="#000" >LC-semi-IPN</text>
<text x="319.80" y="260.60" font-size="10" text-anchor="start" fill="#000" >LCN</text>
<text x="388.20" y="224.70" font-size="10.5" text-anchor="start" textLength="55.46" lengthAdjust="spacingAndGlyphs">Exp. Fitting:</text>
<text x="392.30" y="237.00" font-size="10.5" text-anchor="start" textLength="40.83" lengthAdjust="spacingAndGlyphs">n = 0.158</text>
<text x="392.30" y="248.30" font-size="10.5" textLength="45.23" lengthAdjust="spacingAndGlyphs">R<tspan font-size="6.8" dy="-3.3">2</tspan><tspan dy="3.3"> = 0.990</tspan></text>
<text x="392.30" y="276.50" font-size="10.5" text-anchor="start" textLength="40.83" lengthAdjust="spacingAndGlyphs">n = 0.327</text>
<text x="392.30" y="287.80" font-size="10.5" textLength="45.23" lengthAdjust="spacingAndGlyphs">R<tspan font-size="6.8" dy="-3.3">2</tspan><tspan dy="3.3"> = 0.993</tspan></text>
<path d="M356.3,276.8 L356.3,248.2 L352.4,248.2 L358.3,233.8 L364.3,248.2 L360.3,248.2 L360.3,276.8 Z" fill="#c9dcf0" stroke="#4a7fc2" stroke-width="0.9"/>
<rect x="268.60" y="188.40" width="182.90" height="134.60" fill="none" stroke="#111" stroke-width="1.0"/>
<text x="481.8" y="181.0" font-size="16.5" fill="#000">f</text>
<line x1="504.00" y1="322.00" x2="504.00" y2="324.60" stroke="#111" stroke-width="1" />
<line x1="523.96" y1="322.00" x2="523.96" y2="323.50" stroke="#111" stroke-width="1" />
<line x1="535.63" y1="322.00" x2="535.63" y2="323.50" stroke="#111" stroke-width="1" />
<line x1="543.92" y1="322.00" x2="543.92" y2="323.50" stroke="#111" stroke-width="1" />
<line x1="550.34" y1="322.00" x2="550.34" y2="323.50" stroke="#111" stroke-width="1" />
<line x1="555.59" y1="322.00" x2="555.59" y2="323.50" stroke="#111" stroke-width="1" />
<line x1="560.03" y1="322.00" x2="560.03" y2="323.50" stroke="#111" stroke-width="1" />
<line x1="563.87" y1="322.00" x2="563.87" y2="323.50" stroke="#111" stroke-width="1" />
<line x1="567.27" y1="322.00" x2="567.27" y2="323.50" stroke="#111" stroke-width="1" />
<line x1="570.30" y1="322.00" x2="570.30" y2="324.60" stroke="#111" stroke-width="1" />
<line x1="590.26" y1="322.00" x2="590.26" y2="323.50" stroke="#111" stroke-width="1" />
<line x1="601.93" y1="322.00" x2="601.93" y2="323.50" stroke="#111" stroke-width="1" />
<line x1="610.22" y1="322.00" x2="610.22" y2="323.50" stroke="#111" stroke-width="1" />
<line x1="616.64" y1="322.00" x2="616.64" y2="323.50" stroke="#111" stroke-width="1" />
<line x1="621.89" y1="322.00" x2="621.89" y2="323.50" stroke="#111" stroke-width="1" />
<line x1="626.33" y1="322.00" x2="626.33" y2="323.50" stroke="#111" stroke-width="1" />
<line x1="630.17" y1="322.00" x2="630.17" y2="323.50" stroke="#111" stroke-width="1" />
<line x1="633.57" y1="322.00" x2="633.57" y2="323.50" stroke="#111" stroke-width="1" />
<line x1="636.60" y1="322.00" x2="636.60" y2="324.60" stroke="#111" stroke-width="1" />
<line x1="656.56" y1="322.00" x2="656.56" y2="323.50" stroke="#111" stroke-width="1" />
<line x1="668.23" y1="322.00" x2="668.23" y2="323.50" stroke="#111" stroke-width="1" />
<line x1="676.52" y1="322.00" x2="676.52" y2="323.50" stroke="#111" stroke-width="1" />
<line x1="682.94" y1="322.00" x2="682.94" y2="323.50" stroke="#111" stroke-width="1" />
<line x1="501.40" y1="322.00" x2="504.00" y2="322.00" stroke="#111" stroke-width="1" />
<line x1="502.50" y1="308.70" x2="504.00" y2="308.70" stroke="#111" stroke-width="1" />
<line x1="502.50" y1="300.93" x2="504.00" y2="300.93" stroke="#111" stroke-width="1" />
<line x1="502.50" y1="295.41" x2="504.00" y2="295.41" stroke="#111" stroke-width="1" />
<line x1="502.50" y1="291.13" x2="504.00" y2="291.13" stroke="#111" stroke-width="1" />
<line x1="502.50" y1="287.63" x2="504.00" y2="287.63" stroke="#111" stroke-width="1" />
<line x1="502.50" y1="284.67" x2="504.00" y2="284.67" stroke="#111" stroke-width="1" />
<line x1="502.50" y1="282.11" x2="504.00" y2="282.11" stroke="#111" stroke-width="1" />
<line x1="502.50" y1="279.85" x2="504.00" y2="279.85" stroke="#111" stroke-width="1" />
<line x1="501.40" y1="277.83" x2="504.00" y2="277.83" stroke="#111" stroke-width="1" />
<line x1="502.50" y1="264.54" x2="504.00" y2="264.54" stroke="#111" stroke-width="1" />
<line x1="502.50" y1="256.76" x2="504.00" y2="256.76" stroke="#111" stroke-width="1" />
<line x1="502.50" y1="251.24" x2="504.00" y2="251.24" stroke="#111" stroke-width="1" />
<line x1="502.50" y1="246.96" x2="504.00" y2="246.96" stroke="#111" stroke-width="1" />
<line x1="502.50" y1="243.46" x2="504.00" y2="243.46" stroke="#111" stroke-width="1" />
<line x1="502.50" y1="240.51" x2="504.00" y2="240.51" stroke="#111" stroke-width="1" />
<line x1="502.50" y1="237.95" x2="504.00" y2="237.95" stroke="#111" stroke-width="1" />
<line x1="502.50" y1="235.69" x2="504.00" y2="235.69" stroke="#111" stroke-width="1" />
<line x1="501.40" y1="233.67" x2="504.00" y2="233.67" stroke="#111" stroke-width="1" />
<line x1="502.50" y1="220.37" x2="504.00" y2="220.37" stroke="#111" stroke-width="1" />
<line x1="502.50" y1="212.59" x2="504.00" y2="212.59" stroke="#111" stroke-width="1" />
<line x1="502.50" y1="207.08" x2="504.00" y2="207.08" stroke="#111" stroke-width="1" />
<line x1="502.50" y1="202.80" x2="504.00" y2="202.80" stroke="#111" stroke-width="1" />
<line x1="502.50" y1="199.30" x2="504.00" y2="199.30" stroke="#111" stroke-width="1" />
<line x1="502.50" y1="196.34" x2="504.00" y2="196.34" stroke="#111" stroke-width="1" />
<line x1="502.50" y1="193.78" x2="504.00" y2="193.78" stroke="#111" stroke-width="1" />
<line x1="502.50" y1="191.52" x2="504.00" y2="191.52" stroke="#111" stroke-width="1" />
<line x1="501.40" y1="189.50" x2="504.00" y2="189.50" stroke="#111" stroke-width="1" />
<text x="507.50" y="336.25" font-size="10.5" text-anchor="middle" fill="#000" textLength="24.52" lengthAdjust="spacingAndGlyphs">0.001</text>
<text x="572.20" y="336.25" font-size="10.5" text-anchor="middle" fill="#000" textLength="19.07" lengthAdjust="spacingAndGlyphs">0.01</text>
<text x="638.70" y="336.25" font-size="10.5" text-anchor="middle" fill="#000" textLength="13.62" lengthAdjust="spacingAndGlyphs">0.1</text>
<text x="497.60" y="194.55" font-size="10.5" text-anchor="end" fill="#000" textLength="16.35" lengthAdjust="spacingAndGlyphs">100</text>
<text x="497.60" y="238.35" font-size="10.5" text-anchor="end" fill="#000" textLength="10.90" lengthAdjust="spacingAndGlyphs">10</text>
<text x="497.60" y="282.45" font-size="10.5" text-anchor="end" fill="#000" textLength="5.45" lengthAdjust="spacingAndGlyphs">1</text>
<text x="497.60" y="325.35" font-size="10.5" text-anchor="end" fill="#000" textLength="13.62" lengthAdjust="spacingAndGlyphs">0.1</text>
<text x="594.00" y="350.00" font-size="10" text-anchor="middle" fill="#000" >Strain rate (s<tspan font-size="6.5" dy="-3.5">-1</tspan><tspan dy="3.5">)</tspan></text>
<text transform="translate(480.90,256.30) rotate(-90)" font-size="10.30" text-anchor="middle" textLength="116.89" lengthAdjust="spacingAndGlyphs"><tspan dy="0.00">Young&#39;s modulus (MPa)</tspan></text>
<path d="M523.96,224.60 L565.05,219.70 L604.97,215.60 L644.88,210.80" stroke="#7659c0" stroke-width="1.0" fill="none" stroke-linejoin="round" />
<path d="M523.96,280.50 L565.05,272.00 L604.97,264.10 L644.88,256.10" stroke="#f7921e" stroke-width="1.0" fill="none" stroke-linejoin="round" />
<circle cx="523.96" cy="224.60" r="2.4" fill="none" stroke="#7659c0" stroke-width="0.9"/>
<line x1="523.96" y1="222.60" x2="523.96" y2="226.60" stroke="#7659c0" stroke-width="1.0" />
<line x1="522.56" y1="222.60" x2="525.36" y2="222.60" stroke="#7659c0" stroke-width="1.0" />
<line x1="522.56" y1="226.60" x2="525.36" y2="226.60" stroke="#7659c0" stroke-width="1.0" />
<circle cx="565.05" cy="219.70" r="2.4" fill="none" stroke="#7659c0" stroke-width="0.9"/>
<line x1="565.05" y1="217.70" x2="565.05" y2="221.70" stroke="#7659c0" stroke-width="1.0" />
<line x1="563.65" y1="217.70" x2="566.45" y2="217.70" stroke="#7659c0" stroke-width="1.0" />
<line x1="563.65" y1="221.70" x2="566.45" y2="221.70" stroke="#7659c0" stroke-width="1.0" />
<circle cx="604.97" cy="215.60" r="2.4" fill="none" stroke="#7659c0" stroke-width="0.9"/>
<line x1="604.97" y1="213.60" x2="604.97" y2="217.60" stroke="#7659c0" stroke-width="1.0" />
<line x1="603.57" y1="213.60" x2="606.37" y2="213.60" stroke="#7659c0" stroke-width="1.0" />
<line x1="603.57" y1="217.60" x2="606.37" y2="217.60" stroke="#7659c0" stroke-width="1.0" />
<circle cx="644.88" cy="210.80" r="2.4" fill="none" stroke="#7659c0" stroke-width="0.9"/>
<line x1="644.88" y1="208.80" x2="644.88" y2="212.80" stroke="#7659c0" stroke-width="1.0" />
<line x1="643.48" y1="208.80" x2="646.28" y2="208.80" stroke="#7659c0" stroke-width="1.0" />
<line x1="643.48" y1="212.80" x2="646.28" y2="212.80" stroke="#7659c0" stroke-width="1.0" />
<path d="M521.96,279.10 L523.96,282.40 L525.96,279.10 Z" fill="none" stroke="#f7921e" stroke-width="0.8"/>
<line x1="523.96" y1="278.50" x2="523.96" y2="282.90" stroke="#f7921e" stroke-width="1.2" />
<line x1="522.26" y1="278.50" x2="525.66" y2="278.50" stroke="#f7921e" stroke-width="1.2" />
<line x1="522.26" y1="282.90" x2="525.66" y2="282.90" stroke="#f7921e" stroke-width="1.2" />
<path d="M563.05,270.60 L565.05,273.90 L567.05,270.60 Z" fill="none" stroke="#f7921e" stroke-width="0.8"/>
<line x1="565.05" y1="268.40" x2="565.05" y2="275.60" stroke="#f7921e" stroke-width="1.2" />
<line x1="563.35" y1="268.40" x2="566.75" y2="268.40" stroke="#f7921e" stroke-width="1.2" />
<line x1="563.35" y1="275.60" x2="566.75" y2="275.60" stroke="#f7921e" stroke-width="1.2" />
<path d="M602.97,262.70 L604.97,266.00 L606.97,262.70 Z" fill="none" stroke="#f7921e" stroke-width="0.8"/>
<line x1="604.97" y1="260.50" x2="604.97" y2="268.40" stroke="#f7921e" stroke-width="1.2" />
<line x1="603.27" y1="260.50" x2="606.67" y2="260.50" stroke="#f7921e" stroke-width="1.2" />
<line x1="603.27" y1="268.40" x2="606.67" y2="268.40" stroke="#f7921e" stroke-width="1.2" />
<path d="M642.88,254.70 L644.88,258.00 L646.88,254.70 Z" fill="none" stroke="#f7921e" stroke-width="0.8"/>
<line x1="644.88" y1="252.50" x2="644.88" y2="259.30" stroke="#f7921e" stroke-width="1.2" />
<line x1="643.18" y1="252.50" x2="646.58" y2="252.50" stroke="#f7921e" stroke-width="1.2" />
<line x1="643.18" y1="259.30" x2="646.58" y2="259.30" stroke="#f7921e" stroke-width="1.2" />
<path d="M524.90,198.40 L528.19,200.30 L528.19,204.10 L524.90,206.00 L521.61,204.10 L521.61,200.30 Z" stroke="#7659c0" stroke-width="1.2" fill="none" stroke-linejoin="round" />
<line x1="534.90" y1="202.40" x2="557.00" y2="202.40" stroke="#8a70c8" stroke-width="1.1" />
<path d="M521.3,254.0 L525.3,260.8 L529.3,254.0 Z" fill="none" stroke="#f7921e" stroke-width="1.1"/>
<line x1="534.00" y1="257.40" x2="556.20" y2="257.40" stroke="#f8982c" stroke-width="1.1" />
<text x="559.00" y="205.30" font-size="10" text-anchor="start" fill="#000" >LC-semi-IPN</text>
<text x="558.00" y="260.00" font-size="10" text-anchor="start" fill="#000" >LCN</text>
<text x="626.00" y="225.80" font-size="10.5" text-anchor="start" textLength="55.46" lengthAdjust="spacingAndGlyphs">Exp. Fitting:</text>
<text x="629.60" y="237.10" font-size="10.5" text-anchor="start" textLength="40.83" lengthAdjust="spacingAndGlyphs">n = 0.172</text>
<text x="629.60" y="248.10" font-size="10.5" textLength="45.23" lengthAdjust="spacingAndGlyphs">R<tspan font-size="6.8" dy="-3.3">2</tspan><tspan dy="3.3"> = 0.995</tspan></text>
<text x="629.60" y="276.10" font-size="10.5" text-anchor="start" textLength="40.83" lengthAdjust="spacingAndGlyphs">n = 0.311</text>
<text x="629.60" y="287.50" font-size="10.5" textLength="45.23" lengthAdjust="spacingAndGlyphs">R<tspan font-size="6.8" dy="-3.3">2</tspan><tspan dy="3.3"> = 0.998</tspan></text>
<path d="M593.6,276.6 L593.6,248.4 L589.8,248.4 L595.8,233.6 L601.9,248.4 L597.9,248.4 L597.9,276.6 Z" fill="#e2ddf3" stroke="#6c50bb" stroke-width="1.2"/>
<rect x="504.00" y="189.50" width="180.50" height="132.50" fill="none" stroke="#111" stroke-width="1.0"/>
</svg>
</body></html>
